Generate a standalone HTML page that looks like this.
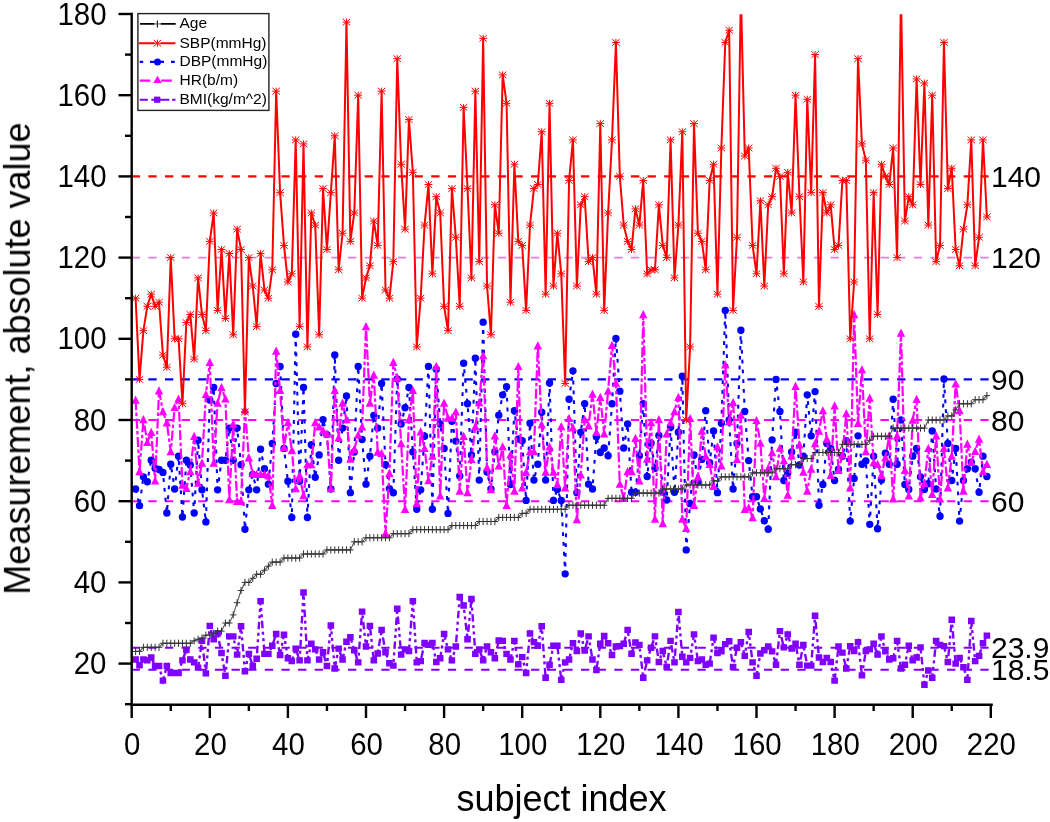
<!DOCTYPE html><html><head><meta charset="utf-8"><style>html,body{margin:0;padding:0;background:#fff;}svg{display:block;}</style></head><body>
<svg width="1050" height="822" viewBox="0 0 1050 822">
<rect width="1050" height="822" fill="#fff"/>
<defs><clipPath id="pc"><rect x="131" y="14.2" width="862" height="692"/></clipPath></defs>
<line x1="131.7" y1="176.40" x2="989" y2="176.40" stroke="#f00" stroke-width="2.1" stroke-dasharray="8.3 8.34"/>
<line x1="131.7" y1="257.60" x2="989" y2="257.60" stroke="#dd80d8" stroke-width="1.8" stroke-dasharray="8.3 8.34"/>
<line x1="131.7" y1="379.40" x2="989" y2="379.40" stroke="#00f" stroke-width="2.1" stroke-dasharray="8.3 8.34"/>
<line x1="131.7" y1="420.00" x2="989" y2="420.00" stroke="#f0f" stroke-width="2.1" stroke-dasharray="8.3 8.34"/>
<line x1="131.7" y1="501.20" x2="989" y2="501.20" stroke="#f0f" stroke-width="2.1" stroke-dasharray="8.3 8.34"/>
<line x1="131.7" y1="647.77" x2="989" y2="647.77" stroke="#8000ff" stroke-width="2.1" stroke-dasharray="8.3 8.34"/>
<line x1="131.7" y1="669.69" x2="989" y2="669.69" stroke="#8000ff" stroke-width="2.1" stroke-dasharray="8.3 8.34"/>
<g clip-path="url(#pc)">
<polyline points="135.60,659.54 139.51,665.22 143.41,659.54 147.32,660.35 151.22,657.51 155.13,666.04 159.03,666.04 162.94,680.65 166.84,666.04 170.75,672.94 174.65,672.94 178.56,672.94 182.46,660.35 186.37,649.80 190.27,659.54 194.18,662.38 198.08,667.66 201.99,640.86 205.89,673.34 209.80,625.84 213.70,639.24 217.61,633.56 221.51,653.04 225.42,675.78 229.32,636.40 233.23,636.40 237.13,654.67 241.04,626.25 244.94,671.31 248.85,653.86 252.75,666.04 256.66,658.73 260.56,601.08 264.47,653.86 268.38,653.86 272.28,645.74 276.18,633.96 280.09,655.07 284.00,634.77 287.90,658.32 291.80,661.16 295.71,648.58 299.62,660.35 303.52,592.55 307.42,660.35 311.33,643.71 315.24,649.39 319.14,659.54 323.04,652.23 326.95,666.04 330.86,625.44 334.76,668.47 338.66,648.58 342.57,659.54 346.47,641.68 350.38,637.21 354.28,650.20 358.19,662.38 362.09,611.63 366.00,646.55 369.90,625.84 373.81,660.35 377.71,653.45 381.62,629.90 385.52,652.23 389.43,663.19 393.33,665.63 397.24,608.79 401.14,654.67 405.05,649.39 408.95,651.01 412.86,601.08 416.76,662.38 420.67,661.16 424.57,642.89 428.48,644.92 432.38,642.89 436.29,661.98 440.19,658.32 444.10,633.96 448.00,649.39 451.91,660.35 455.81,646.55 459.72,597.02 463.62,605.54 467.53,639.24 471.43,599.05 475.34,653.86 479.24,649.39 483.15,660.35 487.05,646.55 490.96,652.23 494.86,658.32 498.77,640.46 502.67,640.86 506.58,653.86 510.48,659.54 514.39,640.86 518.29,664.41 522.20,657.10 526.11,672.94 530.01,633.56 533.91,642.08 537.82,645.74 541.72,626.25 545.63,677.81 549.53,664.82 553.44,645.74 557.35,645.74 561.25,679.84 565.15,662.38 569.06,659.54 572.96,643.30 576.87,651.01 580.77,633.56 584.68,650.61 588.59,636.40 592.49,659.54 596.39,670.10 600.30,643.71 604.20,635.99 608.11,643.30 612.01,655.07 615.92,646.55 619.83,646.14 623.73,643.71 627.63,629.90 631.54,653.86 635.44,642.49 639.35,644.92 643.25,677.81 647.16,660.35 651.07,647.77 654.97,636.40 658.88,661.98 662.78,651.01 666.68,666.85 670.59,640.86 674.49,662.38 678.40,612.04 682.31,656.70 686.21,662.38 690.12,657.92 694.02,634.37 697.92,661.16 701.83,659.54 705.73,664.82 709.64,663.60 713.55,637.62 717.45,653.04 721.36,651.42 725.26,644.11 729.16,641.27 733.07,666.85 736.97,647.77 740.88,642.08 744.78,655.89 748.69,631.93 752.60,662.38 756.50,675.78 760.40,653.45 764.31,650.20 768.21,646.55 772.12,651.42 776.02,664.82 779.93,631.12 783.84,647.36 787.74,634.37 791.64,648.58 795.55,643.71 799.45,664.82 803.36,644.92 807.26,665.63 811.17,665.63 815.08,615.69 818.98,657.51 822.88,661.98 826.79,657.92 830.69,661.98 834.60,680.65 838.50,646.55 842.41,652.64 846.32,668.47 850.22,646.14 854.12,651.01 858.03,642.08 861.93,675.37 865.84,651.01 869.74,649.39 873.65,643.71 877.56,654.67 881.46,636.40 885.37,651.42 889.27,659.54 893.17,658.32 897.08,640.86 900.98,668.47 904.89,664.82 908.79,645.74 912.70,660.35 916.61,657.51 920.51,647.36 924.41,684.71 928.32,670.50 932.22,677.81 936.13,640.86 940.03,644.92 943.94,646.14 947.85,661.98 951.75,619.75 955.65,663.60 959.56,657.92 963.46,667.25 967.37,679.84 971.27,620.97 975.18,661.16 979.09,655.89 982.99,643.30 986.89,635.59" fill="none" stroke="#8000ff" stroke-width="2.4" stroke-dasharray="7.5 3.5 3 3.5 3 3.5"/>
<path fill="#8000ff" d="M132.30,656.34h6.6v6.4h-6.6zM136.21,662.02h6.6v6.4h-6.6zM140.11,656.34h6.6v6.4h-6.6zM144.02,657.15h6.6v6.4h-6.6zM147.92,654.31h6.6v6.4h-6.6zM151.83,662.84h6.6v6.4h-6.6zM155.73,662.84h6.6v6.4h-6.6zM159.64,677.45h6.6v6.4h-6.6zM163.54,662.84h6.6v6.4h-6.6zM167.45,669.74h6.6v6.4h-6.6zM171.35,669.74h6.6v6.4h-6.6zM175.26,669.74h6.6v6.4h-6.6zM179.16,657.15h6.6v6.4h-6.6zM183.07,646.60h6.6v6.4h-6.6zM186.97,656.34h6.6v6.4h-6.6zM190.88,659.18h6.6v6.4h-6.6zM194.78,664.46h6.6v6.4h-6.6zM198.69,637.66h6.6v6.4h-6.6zM202.59,670.14h6.6v6.4h-6.6zM206.50,622.64h6.6v6.4h-6.6zM210.40,636.04h6.6v6.4h-6.6zM214.31,630.36h6.6v6.4h-6.6zM218.21,649.84h6.6v6.4h-6.6zM222.12,672.58h6.6v6.4h-6.6zM226.02,633.20h6.6v6.4h-6.6zM229.93,633.20h6.6v6.4h-6.6zM233.83,651.47h6.6v6.4h-6.6zM237.74,623.05h6.6v6.4h-6.6zM241.64,668.11h6.6v6.4h-6.6zM245.55,650.66h6.6v6.4h-6.6zM249.45,662.84h6.6v6.4h-6.6zM253.36,655.53h6.6v6.4h-6.6zM257.26,597.88h6.6v6.4h-6.6zM261.17,650.66h6.6v6.4h-6.6zM265.07,650.66h6.6v6.4h-6.6zM268.98,642.54h6.6v6.4h-6.6zM272.88,630.76h6.6v6.4h-6.6zM276.79,651.87h6.6v6.4h-6.6zM280.69,631.57h6.6v6.4h-6.6zM284.60,655.12h6.6v6.4h-6.6zM288.50,657.96h6.6v6.4h-6.6zM292.41,645.38h6.6v6.4h-6.6zM296.31,657.15h6.6v6.4h-6.6zM300.22,589.35h6.6v6.4h-6.6zM304.12,657.15h6.6v6.4h-6.6zM308.03,640.51h6.6v6.4h-6.6zM311.94,646.19h6.6v6.4h-6.6zM315.84,656.34h6.6v6.4h-6.6zM319.74,649.03h6.6v6.4h-6.6zM323.65,662.84h6.6v6.4h-6.6zM327.56,622.24h6.6v6.4h-6.6zM331.46,665.27h6.6v6.4h-6.6zM335.36,645.38h6.6v6.4h-6.6zM339.27,656.34h6.6v6.4h-6.6zM343.17,638.48h6.6v6.4h-6.6zM347.08,634.01h6.6v6.4h-6.6zM350.98,647.00h6.6v6.4h-6.6zM354.89,659.18h6.6v6.4h-6.6zM358.79,608.43h6.6v6.4h-6.6zM362.70,643.35h6.6v6.4h-6.6zM366.60,622.64h6.6v6.4h-6.6zM370.51,657.15h6.6v6.4h-6.6zM374.41,650.25h6.6v6.4h-6.6zM378.32,626.70h6.6v6.4h-6.6zM382.22,649.03h6.6v6.4h-6.6zM386.13,659.99h6.6v6.4h-6.6zM390.03,662.43h6.6v6.4h-6.6zM393.94,605.59h6.6v6.4h-6.6zM397.84,651.47h6.6v6.4h-6.6zM401.75,646.19h6.6v6.4h-6.6zM405.65,647.81h6.6v6.4h-6.6zM409.56,597.88h6.6v6.4h-6.6zM413.46,659.18h6.6v6.4h-6.6zM417.37,657.96h6.6v6.4h-6.6zM421.27,639.69h6.6v6.4h-6.6zM425.18,641.72h6.6v6.4h-6.6zM429.08,639.69h6.6v6.4h-6.6zM432.99,658.78h6.6v6.4h-6.6zM436.89,655.12h6.6v6.4h-6.6zM440.80,630.76h6.6v6.4h-6.6zM444.70,646.19h6.6v6.4h-6.6zM448.61,657.15h6.6v6.4h-6.6zM452.51,643.35h6.6v6.4h-6.6zM456.42,593.82h6.6v6.4h-6.6zM460.32,602.34h6.6v6.4h-6.6zM464.23,636.04h6.6v6.4h-6.6zM468.13,595.85h6.6v6.4h-6.6zM472.04,650.66h6.6v6.4h-6.6zM475.94,646.19h6.6v6.4h-6.6zM479.85,657.15h6.6v6.4h-6.6zM483.75,643.35h6.6v6.4h-6.6zM487.66,649.03h6.6v6.4h-6.6zM491.56,655.12h6.6v6.4h-6.6zM495.47,637.26h6.6v6.4h-6.6zM499.37,637.66h6.6v6.4h-6.6zM503.28,650.66h6.6v6.4h-6.6zM507.18,656.34h6.6v6.4h-6.6zM511.09,637.66h6.6v6.4h-6.6zM515.00,661.21h6.6v6.4h-6.6zM518.90,653.90h6.6v6.4h-6.6zM522.81,669.74h6.6v6.4h-6.6zM526.71,630.36h6.6v6.4h-6.6zM530.62,638.88h6.6v6.4h-6.6zM534.52,642.54h6.6v6.4h-6.6zM538.42,623.05h6.6v6.4h-6.6zM542.33,674.61h6.6v6.4h-6.6zM546.24,661.62h6.6v6.4h-6.6zM550.14,642.54h6.6v6.4h-6.6zM554.05,642.54h6.6v6.4h-6.6zM557.95,676.64h6.6v6.4h-6.6zM561.86,659.18h6.6v6.4h-6.6zM565.76,656.34h6.6v6.4h-6.6zM569.66,640.10h6.6v6.4h-6.6zM573.57,647.81h6.6v6.4h-6.6zM577.48,630.36h6.6v6.4h-6.6zM581.38,647.41h6.6v6.4h-6.6zM585.29,633.20h6.6v6.4h-6.6zM589.19,656.34h6.6v6.4h-6.6zM593.10,666.90h6.6v6.4h-6.6zM597.00,640.51h6.6v6.4h-6.6zM600.90,632.79h6.6v6.4h-6.6zM604.81,640.10h6.6v6.4h-6.6zM608.72,651.87h6.6v6.4h-6.6zM612.62,643.35h6.6v6.4h-6.6zM616.53,642.94h6.6v6.4h-6.6zM620.43,640.51h6.6v6.4h-6.6zM624.34,626.70h6.6v6.4h-6.6zM628.24,650.66h6.6v6.4h-6.6zM632.14,639.29h6.6v6.4h-6.6zM636.05,641.72h6.6v6.4h-6.6zM639.95,674.61h6.6v6.4h-6.6zM643.86,657.15h6.6v6.4h-6.6zM647.77,644.57h6.6v6.4h-6.6zM651.67,633.20h6.6v6.4h-6.6zM655.58,658.78h6.6v6.4h-6.6zM659.48,647.81h6.6v6.4h-6.6zM663.38,663.65h6.6v6.4h-6.6zM667.29,637.66h6.6v6.4h-6.6zM671.19,659.18h6.6v6.4h-6.6zM675.10,608.84h6.6v6.4h-6.6zM679.01,653.50h6.6v6.4h-6.6zM682.91,659.18h6.6v6.4h-6.6zM686.82,654.72h6.6v6.4h-6.6zM690.72,631.17h6.6v6.4h-6.6zM694.62,657.96h6.6v6.4h-6.6zM698.53,656.34h6.6v6.4h-6.6zM702.43,661.62h6.6v6.4h-6.6zM706.34,660.40h6.6v6.4h-6.6zM710.25,634.42h6.6v6.4h-6.6zM714.15,649.84h6.6v6.4h-6.6zM718.06,648.22h6.6v6.4h-6.6zM721.96,640.91h6.6v6.4h-6.6zM725.87,638.07h6.6v6.4h-6.6zM729.77,663.65h6.6v6.4h-6.6zM733.67,644.57h6.6v6.4h-6.6zM737.58,638.88h6.6v6.4h-6.6zM741.48,652.69h6.6v6.4h-6.6zM745.39,628.73h6.6v6.4h-6.6zM749.30,659.18h6.6v6.4h-6.6zM753.20,672.58h6.6v6.4h-6.6zM757.11,650.25h6.6v6.4h-6.6zM761.01,647.00h6.6v6.4h-6.6zM764.91,643.35h6.6v6.4h-6.6zM768.82,648.22h6.6v6.4h-6.6zM772.72,661.62h6.6v6.4h-6.6zM776.63,627.92h6.6v6.4h-6.6zM780.54,644.16h6.6v6.4h-6.6zM784.44,631.17h6.6v6.4h-6.6zM788.35,645.38h6.6v6.4h-6.6zM792.25,640.51h6.6v6.4h-6.6zM796.15,661.62h6.6v6.4h-6.6zM800.06,641.72h6.6v6.4h-6.6zM803.96,662.43h6.6v6.4h-6.6zM807.87,662.43h6.6v6.4h-6.6zM811.78,612.49h6.6v6.4h-6.6zM815.68,654.31h6.6v6.4h-6.6zM819.59,658.78h6.6v6.4h-6.6zM823.49,654.72h6.6v6.4h-6.6zM827.39,658.78h6.6v6.4h-6.6zM831.30,677.45h6.6v6.4h-6.6zM835.20,643.35h6.6v6.4h-6.6zM839.11,649.44h6.6v6.4h-6.6zM843.02,665.27h6.6v6.4h-6.6zM846.92,642.94h6.6v6.4h-6.6zM850.83,647.81h6.6v6.4h-6.6zM854.73,638.88h6.6v6.4h-6.6zM858.63,672.17h6.6v6.4h-6.6zM862.54,647.81h6.6v6.4h-6.6zM866.44,646.19h6.6v6.4h-6.6zM870.35,640.51h6.6v6.4h-6.6zM874.26,651.47h6.6v6.4h-6.6zM878.16,633.20h6.6v6.4h-6.6zM882.07,648.22h6.6v6.4h-6.6zM885.97,656.34h6.6v6.4h-6.6zM889.88,655.12h6.6v6.4h-6.6zM893.78,637.66h6.6v6.4h-6.6zM897.68,665.27h6.6v6.4h-6.6zM901.59,661.62h6.6v6.4h-6.6zM905.49,642.54h6.6v6.4h-6.6zM909.40,657.15h6.6v6.4h-6.6zM913.31,654.31h6.6v6.4h-6.6zM917.21,644.16h6.6v6.4h-6.6zM921.12,681.51h6.6v6.4h-6.6zM925.02,667.30h6.6v6.4h-6.6zM928.92,674.61h6.6v6.4h-6.6zM932.83,637.66h6.6v6.4h-6.6zM936.73,641.72h6.6v6.4h-6.6zM940.64,642.94h6.6v6.4h-6.6zM944.55,658.78h6.6v6.4h-6.6zM948.45,616.55h6.6v6.4h-6.6zM952.36,660.40h6.6v6.4h-6.6zM956.26,654.72h6.6v6.4h-6.6zM960.16,664.05h6.6v6.4h-6.6zM964.07,676.64h6.6v6.4h-6.6zM967.97,617.77h6.6v6.4h-6.6zM971.88,657.96h6.6v6.4h-6.6zM975.79,652.69h6.6v6.4h-6.6zM979.69,640.10h6.6v6.4h-6.6zM983.60,632.39h6.6v6.4h-6.6z"/>
<polyline points="135.60,489.02 139.51,505.67 143.41,476.84 147.32,481.71 151.22,460.19 155.13,468.31 159.03,469.53 162.94,472.37 166.84,512.97 170.75,464.25 174.65,489.02 178.56,456.13 182.46,517.03 186.37,460.19 190.27,465.07 194.18,512.97 198.08,440.30 201.99,489.83 205.89,521.91 209.80,400.11 213.70,387.52 217.61,489.83 221.51,460.19 225.42,460.19 229.32,428.12 233.23,460.19 237.13,428.12 241.04,464.66 244.94,529.21 248.85,489.83 252.75,474.40 256.66,489.83 260.56,449.23 264.47,468.72 268.38,484.15 272.28,443.55 276.18,383.46 280.09,366.41 284.00,448.42 287.90,481.31 291.80,517.44 295.71,334.33 299.62,481.31 303.52,387.52 307.42,517.44 311.33,444.77 315.24,477.25 319.14,454.92 323.04,419.59 326.95,434.62 330.86,489.02 334.76,355.04 338.66,460.19 342.57,428.12 346.47,396.05 350.38,492.67 354.28,452.07 358.19,366.41 362.09,439.49 366.00,484.15 369.90,456.13 373.81,415.53 377.71,428.12 381.62,383.46 385.52,464.66 389.43,488.61 393.33,492.67 397.24,378.99 401.14,424.06 405.05,407.82 408.95,387.52 412.86,452.07 416.76,509.32 420.67,489.83 424.57,436.24 428.48,366.41 432.38,509.32 436.29,369.25 440.19,424.06 444.10,448.42 448.00,513.38 451.91,421.22 455.81,441.11 459.72,476.03 463.62,363.16 467.53,403.76 471.43,454.92 475.34,358.29 479.24,480.09 483.15,322.15 487.05,471.97 490.96,489.02 494.86,451.67 498.77,415.13 502.67,394.83 506.58,386.71 510.48,484.55 514.39,410.66 518.29,439.08 522.20,440.71 526.11,500.39 530.01,423.25 533.91,480.09 537.82,464.25 541.72,412.29 545.63,480.09 549.53,383.05 553.44,500.39 557.35,489.43 561.25,500.39 565.15,573.87 569.06,399.29 572.96,370.87 576.87,492.67 580.77,432.18 584.68,403.76 588.59,484.15 592.49,489.02 596.39,436.65 600.30,452.48 604.20,448.01 608.11,455.73 612.01,403.76 615.92,338.39 619.83,391.17 623.73,448.01 627.63,424.06 631.54,492.27 635.44,492.27 639.35,455.73 643.25,403.76 647.16,476.43 651.07,443.14 654.97,468.31 658.88,435.43 662.78,492.27 666.68,499.98 670.59,427.31 674.49,492.27 678.40,432.18 682.31,376.15 686.21,549.92 690.12,503.64 694.02,454.92 697.92,481.71 701.83,459.38 705.73,410.66 709.64,462.63 713.55,430.96 717.45,492.67 721.36,423.25 725.26,310.38 729.16,420.00 733.07,489.02 736.97,443.55 740.88,330.27 744.78,411.47 748.69,460.60 752.60,496.73 756.50,496.73 760.40,508.91 764.31,520.69 768.21,529.21 772.12,439.89 776.02,379.40 779.93,411.47 783.84,480.49 787.74,473.19 791.64,452.07 795.55,432.18 799.45,465.07 803.36,456.13 807.26,394.83 811.17,435.83 815.08,391.58 818.98,505.26 822.88,484.55 826.79,443.55 830.69,448.42 834.60,480.49 838.50,469.13 842.41,456.13 846.32,440.71 850.22,521.09 854.12,478.46 858.03,435.83 861.93,464.25 865.84,461.01 869.74,524.34 873.65,456.13 877.56,528.81 881.46,480.09 885.37,453.29 889.27,464.25 893.17,399.29 897.08,464.25 900.98,420.00 904.89,484.55 908.79,489.43 912.70,456.13 916.61,448.42 920.51,476.84 924.41,489.43 928.32,483.74 932.22,430.96 936.13,489.02 940.03,516.22 943.94,378.99 947.85,443.55 951.75,480.49 955.65,448.42 959.56,521.09 963.46,480.49 967.37,468.72 971.27,462.22 975.18,468.72 979.09,492.27 982.99,456.13 986.89,476.43" fill="none" stroke="#00f" stroke-width="2.1" stroke-dasharray="3.8 6"/>
<path fill="#00f" d="M131.91,489.02a3.7,3.7 0 1,0 7.4,0a3.7,3.7 0 1,0 -7.4,0zM135.81,505.67a3.7,3.7 0 1,0 7.4,0a3.7,3.7 0 1,0 -7.4,0zM139.72,476.84a3.7,3.7 0 1,0 7.4,0a3.7,3.7 0 1,0 -7.4,0zM143.62,481.71a3.7,3.7 0 1,0 7.4,0a3.7,3.7 0 1,0 -7.4,0zM147.53,460.19a3.7,3.7 0 1,0 7.4,0a3.7,3.7 0 1,0 -7.4,0zM151.43,468.31a3.7,3.7 0 1,0 7.4,0a3.7,3.7 0 1,0 -7.4,0zM155.34,469.53a3.7,3.7 0 1,0 7.4,0a3.7,3.7 0 1,0 -7.4,0zM159.24,472.37a3.7,3.7 0 1,0 7.4,0a3.7,3.7 0 1,0 -7.4,0zM163.14,512.97a3.7,3.7 0 1,0 7.4,0a3.7,3.7 0 1,0 -7.4,0zM167.05,464.25a3.7,3.7 0 1,0 7.4,0a3.7,3.7 0 1,0 -7.4,0zM170.95,489.02a3.7,3.7 0 1,0 7.4,0a3.7,3.7 0 1,0 -7.4,0zM174.86,456.13a3.7,3.7 0 1,0 7.4,0a3.7,3.7 0 1,0 -7.4,0zM178.76,517.03a3.7,3.7 0 1,0 7.4,0a3.7,3.7 0 1,0 -7.4,0zM182.67,460.19a3.7,3.7 0 1,0 7.4,0a3.7,3.7 0 1,0 -7.4,0zM186.57,465.07a3.7,3.7 0 1,0 7.4,0a3.7,3.7 0 1,0 -7.4,0zM190.48,512.97a3.7,3.7 0 1,0 7.4,0a3.7,3.7 0 1,0 -7.4,0zM194.38,440.30a3.7,3.7 0 1,0 7.4,0a3.7,3.7 0 1,0 -7.4,0zM198.29,489.83a3.7,3.7 0 1,0 7.4,0a3.7,3.7 0 1,0 -7.4,0zM202.19,521.91a3.7,3.7 0 1,0 7.4,0a3.7,3.7 0 1,0 -7.4,0zM206.10,400.11a3.7,3.7 0 1,0 7.4,0a3.7,3.7 0 1,0 -7.4,0zM210.00,387.52a3.7,3.7 0 1,0 7.4,0a3.7,3.7 0 1,0 -7.4,0zM213.91,489.83a3.7,3.7 0 1,0 7.4,0a3.7,3.7 0 1,0 -7.4,0zM217.81,460.19a3.7,3.7 0 1,0 7.4,0a3.7,3.7 0 1,0 -7.4,0zM221.72,460.19a3.7,3.7 0 1,0 7.4,0a3.7,3.7 0 1,0 -7.4,0zM225.62,428.12a3.7,3.7 0 1,0 7.4,0a3.7,3.7 0 1,0 -7.4,0zM229.53,460.19a3.7,3.7 0 1,0 7.4,0a3.7,3.7 0 1,0 -7.4,0zM233.44,428.12a3.7,3.7 0 1,0 7.4,0a3.7,3.7 0 1,0 -7.4,0zM237.34,464.66a3.7,3.7 0 1,0 7.4,0a3.7,3.7 0 1,0 -7.4,0zM241.25,529.21a3.7,3.7 0 1,0 7.4,0a3.7,3.7 0 1,0 -7.4,0zM245.15,489.83a3.7,3.7 0 1,0 7.4,0a3.7,3.7 0 1,0 -7.4,0zM249.06,474.40a3.7,3.7 0 1,0 7.4,0a3.7,3.7 0 1,0 -7.4,0zM252.96,489.83a3.7,3.7 0 1,0 7.4,0a3.7,3.7 0 1,0 -7.4,0zM256.86,449.23a3.7,3.7 0 1,0 7.4,0a3.7,3.7 0 1,0 -7.4,0zM260.77,468.72a3.7,3.7 0 1,0 7.4,0a3.7,3.7 0 1,0 -7.4,0zM264.68,484.15a3.7,3.7 0 1,0 7.4,0a3.7,3.7 0 1,0 -7.4,0zM268.58,443.55a3.7,3.7 0 1,0 7.4,0a3.7,3.7 0 1,0 -7.4,0zM272.48,383.46a3.7,3.7 0 1,0 7.4,0a3.7,3.7 0 1,0 -7.4,0zM276.39,366.41a3.7,3.7 0 1,0 7.4,0a3.7,3.7 0 1,0 -7.4,0zM280.30,448.42a3.7,3.7 0 1,0 7.4,0a3.7,3.7 0 1,0 -7.4,0zM284.20,481.31a3.7,3.7 0 1,0 7.4,0a3.7,3.7 0 1,0 -7.4,0zM288.10,517.44a3.7,3.7 0 1,0 7.4,0a3.7,3.7 0 1,0 -7.4,0zM292.01,334.33a3.7,3.7 0 1,0 7.4,0a3.7,3.7 0 1,0 -7.4,0zM295.92,481.31a3.7,3.7 0 1,0 7.4,0a3.7,3.7 0 1,0 -7.4,0zM299.82,387.52a3.7,3.7 0 1,0 7.4,0a3.7,3.7 0 1,0 -7.4,0zM303.72,517.44a3.7,3.7 0 1,0 7.4,0a3.7,3.7 0 1,0 -7.4,0zM307.63,444.77a3.7,3.7 0 1,0 7.4,0a3.7,3.7 0 1,0 -7.4,0zM311.54,477.25a3.7,3.7 0 1,0 7.4,0a3.7,3.7 0 1,0 -7.4,0zM315.44,454.92a3.7,3.7 0 1,0 7.4,0a3.7,3.7 0 1,0 -7.4,0zM319.34,419.59a3.7,3.7 0 1,0 7.4,0a3.7,3.7 0 1,0 -7.4,0zM323.25,434.62a3.7,3.7 0 1,0 7.4,0a3.7,3.7 0 1,0 -7.4,0zM327.16,489.02a3.7,3.7 0 1,0 7.4,0a3.7,3.7 0 1,0 -7.4,0zM331.06,355.04a3.7,3.7 0 1,0 7.4,0a3.7,3.7 0 1,0 -7.4,0zM334.96,460.19a3.7,3.7 0 1,0 7.4,0a3.7,3.7 0 1,0 -7.4,0zM338.87,428.12a3.7,3.7 0 1,0 7.4,0a3.7,3.7 0 1,0 -7.4,0zM342.77,396.05a3.7,3.7 0 1,0 7.4,0a3.7,3.7 0 1,0 -7.4,0zM346.68,492.67a3.7,3.7 0 1,0 7.4,0a3.7,3.7 0 1,0 -7.4,0zM350.58,452.07a3.7,3.7 0 1,0 7.4,0a3.7,3.7 0 1,0 -7.4,0zM354.49,366.41a3.7,3.7 0 1,0 7.4,0a3.7,3.7 0 1,0 -7.4,0zM358.39,439.49a3.7,3.7 0 1,0 7.4,0a3.7,3.7 0 1,0 -7.4,0zM362.30,484.15a3.7,3.7 0 1,0 7.4,0a3.7,3.7 0 1,0 -7.4,0zM366.20,456.13a3.7,3.7 0 1,0 7.4,0a3.7,3.7 0 1,0 -7.4,0zM370.11,415.53a3.7,3.7 0 1,0 7.4,0a3.7,3.7 0 1,0 -7.4,0zM374.01,428.12a3.7,3.7 0 1,0 7.4,0a3.7,3.7 0 1,0 -7.4,0zM377.92,383.46a3.7,3.7 0 1,0 7.4,0a3.7,3.7 0 1,0 -7.4,0zM381.82,464.66a3.7,3.7 0 1,0 7.4,0a3.7,3.7 0 1,0 -7.4,0zM385.73,488.61a3.7,3.7 0 1,0 7.4,0a3.7,3.7 0 1,0 -7.4,0zM389.63,492.67a3.7,3.7 0 1,0 7.4,0a3.7,3.7 0 1,0 -7.4,0zM393.54,378.99a3.7,3.7 0 1,0 7.4,0a3.7,3.7 0 1,0 -7.4,0zM397.44,424.06a3.7,3.7 0 1,0 7.4,0a3.7,3.7 0 1,0 -7.4,0zM401.35,407.82a3.7,3.7 0 1,0 7.4,0a3.7,3.7 0 1,0 -7.4,0zM405.25,387.52a3.7,3.7 0 1,0 7.4,0a3.7,3.7 0 1,0 -7.4,0zM409.16,452.07a3.7,3.7 0 1,0 7.4,0a3.7,3.7 0 1,0 -7.4,0zM413.06,509.32a3.7,3.7 0 1,0 7.4,0a3.7,3.7 0 1,0 -7.4,0zM416.97,489.83a3.7,3.7 0 1,0 7.4,0a3.7,3.7 0 1,0 -7.4,0zM420.88,436.24a3.7,3.7 0 1,0 7.4,0a3.7,3.7 0 1,0 -7.4,0zM424.78,366.41a3.7,3.7 0 1,0 7.4,0a3.7,3.7 0 1,0 -7.4,0zM428.69,509.32a3.7,3.7 0 1,0 7.4,0a3.7,3.7 0 1,0 -7.4,0zM432.59,369.25a3.7,3.7 0 1,0 7.4,0a3.7,3.7 0 1,0 -7.4,0zM436.50,424.06a3.7,3.7 0 1,0 7.4,0a3.7,3.7 0 1,0 -7.4,0zM440.40,448.42a3.7,3.7 0 1,0 7.4,0a3.7,3.7 0 1,0 -7.4,0zM444.31,513.38a3.7,3.7 0 1,0 7.4,0a3.7,3.7 0 1,0 -7.4,0zM448.21,421.22a3.7,3.7 0 1,0 7.4,0a3.7,3.7 0 1,0 -7.4,0zM452.12,441.11a3.7,3.7 0 1,0 7.4,0a3.7,3.7 0 1,0 -7.4,0zM456.02,476.03a3.7,3.7 0 1,0 7.4,0a3.7,3.7 0 1,0 -7.4,0zM459.93,363.16a3.7,3.7 0 1,0 7.4,0a3.7,3.7 0 1,0 -7.4,0zM463.83,403.76a3.7,3.7 0 1,0 7.4,0a3.7,3.7 0 1,0 -7.4,0zM467.73,454.92a3.7,3.7 0 1,0 7.4,0a3.7,3.7 0 1,0 -7.4,0zM471.64,358.29a3.7,3.7 0 1,0 7.4,0a3.7,3.7 0 1,0 -7.4,0zM475.54,480.09a3.7,3.7 0 1,0 7.4,0a3.7,3.7 0 1,0 -7.4,0zM479.45,322.15a3.7,3.7 0 1,0 7.4,0a3.7,3.7 0 1,0 -7.4,0zM483.35,471.97a3.7,3.7 0 1,0 7.4,0a3.7,3.7 0 1,0 -7.4,0zM487.26,489.02a3.7,3.7 0 1,0 7.4,0a3.7,3.7 0 1,0 -7.4,0zM491.16,451.67a3.7,3.7 0 1,0 7.4,0a3.7,3.7 0 1,0 -7.4,0zM495.07,415.13a3.7,3.7 0 1,0 7.4,0a3.7,3.7 0 1,0 -7.4,0zM498.97,394.83a3.7,3.7 0 1,0 7.4,0a3.7,3.7 0 1,0 -7.4,0zM502.88,386.71a3.7,3.7 0 1,0 7.4,0a3.7,3.7 0 1,0 -7.4,0zM506.78,484.55a3.7,3.7 0 1,0 7.4,0a3.7,3.7 0 1,0 -7.4,0zM510.69,410.66a3.7,3.7 0 1,0 7.4,0a3.7,3.7 0 1,0 -7.4,0zM514.59,439.08a3.7,3.7 0 1,0 7.4,0a3.7,3.7 0 1,0 -7.4,0zM518.50,440.71a3.7,3.7 0 1,0 7.4,0a3.7,3.7 0 1,0 -7.4,0zM522.40,500.39a3.7,3.7 0 1,0 7.4,0a3.7,3.7 0 1,0 -7.4,0zM526.31,423.25a3.7,3.7 0 1,0 7.4,0a3.7,3.7 0 1,0 -7.4,0zM530.21,480.09a3.7,3.7 0 1,0 7.4,0a3.7,3.7 0 1,0 -7.4,0zM534.12,464.25a3.7,3.7 0 1,0 7.4,0a3.7,3.7 0 1,0 -7.4,0zM538.02,412.29a3.7,3.7 0 1,0 7.4,0a3.7,3.7 0 1,0 -7.4,0zM541.93,480.09a3.7,3.7 0 1,0 7.4,0a3.7,3.7 0 1,0 -7.4,0zM545.83,383.05a3.7,3.7 0 1,0 7.4,0a3.7,3.7 0 1,0 -7.4,0zM549.74,500.39a3.7,3.7 0 1,0 7.4,0a3.7,3.7 0 1,0 -7.4,0zM553.64,489.43a3.7,3.7 0 1,0 7.4,0a3.7,3.7 0 1,0 -7.4,0zM557.55,500.39a3.7,3.7 0 1,0 7.4,0a3.7,3.7 0 1,0 -7.4,0zM561.45,573.87a3.7,3.7 0 1,0 7.4,0a3.7,3.7 0 1,0 -7.4,0zM565.36,399.29a3.7,3.7 0 1,0 7.4,0a3.7,3.7 0 1,0 -7.4,0zM569.26,370.87a3.7,3.7 0 1,0 7.4,0a3.7,3.7 0 1,0 -7.4,0zM573.17,492.67a3.7,3.7 0 1,0 7.4,0a3.7,3.7 0 1,0 -7.4,0zM577.07,432.18a3.7,3.7 0 1,0 7.4,0a3.7,3.7 0 1,0 -7.4,0zM580.98,403.76a3.7,3.7 0 1,0 7.4,0a3.7,3.7 0 1,0 -7.4,0zM584.88,484.15a3.7,3.7 0 1,0 7.4,0a3.7,3.7 0 1,0 -7.4,0zM588.79,489.02a3.7,3.7 0 1,0 7.4,0a3.7,3.7 0 1,0 -7.4,0zM592.69,436.65a3.7,3.7 0 1,0 7.4,0a3.7,3.7 0 1,0 -7.4,0zM596.60,452.48a3.7,3.7 0 1,0 7.4,0a3.7,3.7 0 1,0 -7.4,0zM600.50,448.01a3.7,3.7 0 1,0 7.4,0a3.7,3.7 0 1,0 -7.4,0zM604.41,455.73a3.7,3.7 0 1,0 7.4,0a3.7,3.7 0 1,0 -7.4,0zM608.31,403.76a3.7,3.7 0 1,0 7.4,0a3.7,3.7 0 1,0 -7.4,0zM612.22,338.39a3.7,3.7 0 1,0 7.4,0a3.7,3.7 0 1,0 -7.4,0zM616.12,391.17a3.7,3.7 0 1,0 7.4,0a3.7,3.7 0 1,0 -7.4,0zM620.03,448.01a3.7,3.7 0 1,0 7.4,0a3.7,3.7 0 1,0 -7.4,0zM623.93,424.06a3.7,3.7 0 1,0 7.4,0a3.7,3.7 0 1,0 -7.4,0zM627.84,492.27a3.7,3.7 0 1,0 7.4,0a3.7,3.7 0 1,0 -7.4,0zM631.74,492.27a3.7,3.7 0 1,0 7.4,0a3.7,3.7 0 1,0 -7.4,0zM635.65,455.73a3.7,3.7 0 1,0 7.4,0a3.7,3.7 0 1,0 -7.4,0zM639.55,403.76a3.7,3.7 0 1,0 7.4,0a3.7,3.7 0 1,0 -7.4,0zM643.46,476.43a3.7,3.7 0 1,0 7.4,0a3.7,3.7 0 1,0 -7.4,0zM647.37,443.14a3.7,3.7 0 1,0 7.4,0a3.7,3.7 0 1,0 -7.4,0zM651.27,468.31a3.7,3.7 0 1,0 7.4,0a3.7,3.7 0 1,0 -7.4,0zM655.17,435.43a3.7,3.7 0 1,0 7.4,0a3.7,3.7 0 1,0 -7.4,0zM659.08,492.27a3.7,3.7 0 1,0 7.4,0a3.7,3.7 0 1,0 -7.4,0zM662.98,499.98a3.7,3.7 0 1,0 7.4,0a3.7,3.7 0 1,0 -7.4,0zM666.89,427.31a3.7,3.7 0 1,0 7.4,0a3.7,3.7 0 1,0 -7.4,0zM670.79,492.27a3.7,3.7 0 1,0 7.4,0a3.7,3.7 0 1,0 -7.4,0zM674.70,432.18a3.7,3.7 0 1,0 7.4,0a3.7,3.7 0 1,0 -7.4,0zM678.61,376.15a3.7,3.7 0 1,0 7.4,0a3.7,3.7 0 1,0 -7.4,0zM682.51,549.92a3.7,3.7 0 1,0 7.4,0a3.7,3.7 0 1,0 -7.4,0zM686.41,503.64a3.7,3.7 0 1,0 7.4,0a3.7,3.7 0 1,0 -7.4,0zM690.32,454.92a3.7,3.7 0 1,0 7.4,0a3.7,3.7 0 1,0 -7.4,0zM694.22,481.71a3.7,3.7 0 1,0 7.4,0a3.7,3.7 0 1,0 -7.4,0zM698.13,459.38a3.7,3.7 0 1,0 7.4,0a3.7,3.7 0 1,0 -7.4,0zM702.03,410.66a3.7,3.7 0 1,0 7.4,0a3.7,3.7 0 1,0 -7.4,0zM705.94,462.63a3.7,3.7 0 1,0 7.4,0a3.7,3.7 0 1,0 -7.4,0zM709.85,430.96a3.7,3.7 0 1,0 7.4,0a3.7,3.7 0 1,0 -7.4,0zM713.75,492.67a3.7,3.7 0 1,0 7.4,0a3.7,3.7 0 1,0 -7.4,0zM717.65,423.25a3.7,3.7 0 1,0 7.4,0a3.7,3.7 0 1,0 -7.4,0zM721.56,310.38a3.7,3.7 0 1,0 7.4,0a3.7,3.7 0 1,0 -7.4,0zM725.46,420.00a3.7,3.7 0 1,0 7.4,0a3.7,3.7 0 1,0 -7.4,0zM729.37,489.02a3.7,3.7 0 1,0 7.4,0a3.7,3.7 0 1,0 -7.4,0zM733.27,443.55a3.7,3.7 0 1,0 7.4,0a3.7,3.7 0 1,0 -7.4,0zM737.18,330.27a3.7,3.7 0 1,0 7.4,0a3.7,3.7 0 1,0 -7.4,0zM741.08,411.47a3.7,3.7 0 1,0 7.4,0a3.7,3.7 0 1,0 -7.4,0zM744.99,460.60a3.7,3.7 0 1,0 7.4,0a3.7,3.7 0 1,0 -7.4,0zM748.89,496.73a3.7,3.7 0 1,0 7.4,0a3.7,3.7 0 1,0 -7.4,0zM752.80,496.73a3.7,3.7 0 1,0 7.4,0a3.7,3.7 0 1,0 -7.4,0zM756.70,508.91a3.7,3.7 0 1,0 7.4,0a3.7,3.7 0 1,0 -7.4,0zM760.61,520.69a3.7,3.7 0 1,0 7.4,0a3.7,3.7 0 1,0 -7.4,0zM764.51,529.21a3.7,3.7 0 1,0 7.4,0a3.7,3.7 0 1,0 -7.4,0zM768.42,439.89a3.7,3.7 0 1,0 7.4,0a3.7,3.7 0 1,0 -7.4,0zM772.32,379.40a3.7,3.7 0 1,0 7.4,0a3.7,3.7 0 1,0 -7.4,0zM776.23,411.47a3.7,3.7 0 1,0 7.4,0a3.7,3.7 0 1,0 -7.4,0zM780.13,480.49a3.7,3.7 0 1,0 7.4,0a3.7,3.7 0 1,0 -7.4,0zM784.04,473.19a3.7,3.7 0 1,0 7.4,0a3.7,3.7 0 1,0 -7.4,0zM787.94,452.07a3.7,3.7 0 1,0 7.4,0a3.7,3.7 0 1,0 -7.4,0zM791.85,432.18a3.7,3.7 0 1,0 7.4,0a3.7,3.7 0 1,0 -7.4,0zM795.75,465.07a3.7,3.7 0 1,0 7.4,0a3.7,3.7 0 1,0 -7.4,0zM799.66,456.13a3.7,3.7 0 1,0 7.4,0a3.7,3.7 0 1,0 -7.4,0zM803.56,394.83a3.7,3.7 0 1,0 7.4,0a3.7,3.7 0 1,0 -7.4,0zM807.47,435.83a3.7,3.7 0 1,0 7.4,0a3.7,3.7 0 1,0 -7.4,0zM811.38,391.58a3.7,3.7 0 1,0 7.4,0a3.7,3.7 0 1,0 -7.4,0zM815.28,505.26a3.7,3.7 0 1,0 7.4,0a3.7,3.7 0 1,0 -7.4,0zM819.18,484.55a3.7,3.7 0 1,0 7.4,0a3.7,3.7 0 1,0 -7.4,0zM823.09,443.55a3.7,3.7 0 1,0 7.4,0a3.7,3.7 0 1,0 -7.4,0zM826.99,448.42a3.7,3.7 0 1,0 7.4,0a3.7,3.7 0 1,0 -7.4,0zM830.90,480.49a3.7,3.7 0 1,0 7.4,0a3.7,3.7 0 1,0 -7.4,0zM834.80,469.13a3.7,3.7 0 1,0 7.4,0a3.7,3.7 0 1,0 -7.4,0zM838.71,456.13a3.7,3.7 0 1,0 7.4,0a3.7,3.7 0 1,0 -7.4,0zM842.62,440.71a3.7,3.7 0 1,0 7.4,0a3.7,3.7 0 1,0 -7.4,0zM846.52,521.09a3.7,3.7 0 1,0 7.4,0a3.7,3.7 0 1,0 -7.4,0zM850.42,478.46a3.7,3.7 0 1,0 7.4,0a3.7,3.7 0 1,0 -7.4,0zM854.33,435.83a3.7,3.7 0 1,0 7.4,0a3.7,3.7 0 1,0 -7.4,0zM858.23,464.25a3.7,3.7 0 1,0 7.4,0a3.7,3.7 0 1,0 -7.4,0zM862.14,461.01a3.7,3.7 0 1,0 7.4,0a3.7,3.7 0 1,0 -7.4,0zM866.04,524.34a3.7,3.7 0 1,0 7.4,0a3.7,3.7 0 1,0 -7.4,0zM869.95,456.13a3.7,3.7 0 1,0 7.4,0a3.7,3.7 0 1,0 -7.4,0zM873.86,528.81a3.7,3.7 0 1,0 7.4,0a3.7,3.7 0 1,0 -7.4,0zM877.76,480.09a3.7,3.7 0 1,0 7.4,0a3.7,3.7 0 1,0 -7.4,0zM881.66,453.29a3.7,3.7 0 1,0 7.4,0a3.7,3.7 0 1,0 -7.4,0zM885.57,464.25a3.7,3.7 0 1,0 7.4,0a3.7,3.7 0 1,0 -7.4,0zM889.47,399.29a3.7,3.7 0 1,0 7.4,0a3.7,3.7 0 1,0 -7.4,0zM893.38,464.25a3.7,3.7 0 1,0 7.4,0a3.7,3.7 0 1,0 -7.4,0zM897.28,420.00a3.7,3.7 0 1,0 7.4,0a3.7,3.7 0 1,0 -7.4,0zM901.19,484.55a3.7,3.7 0 1,0 7.4,0a3.7,3.7 0 1,0 -7.4,0zM905.09,489.43a3.7,3.7 0 1,0 7.4,0a3.7,3.7 0 1,0 -7.4,0zM909.00,456.13a3.7,3.7 0 1,0 7.4,0a3.7,3.7 0 1,0 -7.4,0zM912.90,448.42a3.7,3.7 0 1,0 7.4,0a3.7,3.7 0 1,0 -7.4,0zM916.81,476.84a3.7,3.7 0 1,0 7.4,0a3.7,3.7 0 1,0 -7.4,0zM920.71,489.43a3.7,3.7 0 1,0 7.4,0a3.7,3.7 0 1,0 -7.4,0zM924.62,483.74a3.7,3.7 0 1,0 7.4,0a3.7,3.7 0 1,0 -7.4,0zM928.52,430.96a3.7,3.7 0 1,0 7.4,0a3.7,3.7 0 1,0 -7.4,0zM932.43,489.02a3.7,3.7 0 1,0 7.4,0a3.7,3.7 0 1,0 -7.4,0zM936.33,516.22a3.7,3.7 0 1,0 7.4,0a3.7,3.7 0 1,0 -7.4,0zM940.24,378.99a3.7,3.7 0 1,0 7.4,0a3.7,3.7 0 1,0 -7.4,0zM944.14,443.55a3.7,3.7 0 1,0 7.4,0a3.7,3.7 0 1,0 -7.4,0zM948.05,480.49a3.7,3.7 0 1,0 7.4,0a3.7,3.7 0 1,0 -7.4,0zM951.95,448.42a3.7,3.7 0 1,0 7.4,0a3.7,3.7 0 1,0 -7.4,0zM955.86,521.09a3.7,3.7 0 1,0 7.4,0a3.7,3.7 0 1,0 -7.4,0zM959.76,480.49a3.7,3.7 0 1,0 7.4,0a3.7,3.7 0 1,0 -7.4,0zM963.67,468.72a3.7,3.7 0 1,0 7.4,0a3.7,3.7 0 1,0 -7.4,0zM967.57,462.22a3.7,3.7 0 1,0 7.4,0a3.7,3.7 0 1,0 -7.4,0zM971.48,468.72a3.7,3.7 0 1,0 7.4,0a3.7,3.7 0 1,0 -7.4,0zM975.38,492.27a3.7,3.7 0 1,0 7.4,0a3.7,3.7 0 1,0 -7.4,0zM979.29,456.13a3.7,3.7 0 1,0 7.4,0a3.7,3.7 0 1,0 -7.4,0zM983.19,476.43a3.7,3.7 0 1,0 7.4,0a3.7,3.7 0 1,0 -7.4,0z"/>
<polyline points="135.60,400.11 139.51,471.56 143.41,419.59 147.32,442.33 151.22,432.18 155.13,480.90 159.03,390.77 162.94,411.47 166.84,422.84 170.75,451.67 174.65,407.41 178.56,398.89 182.46,484.96 186.37,488.21 190.27,471.56 194.18,436.24 198.08,482.93 201.99,463.04 205.89,394.42 209.80,362.35 213.70,463.04 217.61,402.95 221.51,387.52 225.42,398.89 229.32,499.58 233.23,424.06 237.13,501.20 241.04,501.20 244.94,409.85 248.85,457.76 252.75,473.19 256.66,474.40 260.56,474.40 264.47,474.40 268.38,475.62 272.28,505.26 276.18,350.98 280.09,390.36 284.00,447.61 287.90,422.44 291.80,450.45 295.71,488.61 299.62,475.62 303.52,495.52 307.42,464.66 311.33,464.66 315.24,422.44 319.14,426.90 323.04,430.56 326.95,433.80 330.86,488.61 334.76,390.36 338.66,437.86 342.57,402.95 346.47,419.59 350.38,458.98 354.28,449.23 358.19,435.02 362.09,426.90 366.00,326.62 369.90,402.95 373.81,374.93 377.71,452.07 381.62,453.29 385.52,533.27 389.43,473.19 393.33,362.35 397.24,377.78 401.14,443.55 405.05,509.32 408.95,419.59 412.86,390.36 416.76,503.23 420.67,431.77 424.57,448.42 428.48,480.49 432.38,456.13 436.29,366.41 440.19,495.92 444.10,402.95 448.00,417.97 451.91,417.97 455.81,411.88 459.72,491.05 463.62,436.24 467.53,492.67 471.43,459.38 475.34,426.50 479.24,402.54 483.15,355.45 487.05,467.50 490.96,489.43 494.86,435.83 498.77,465.88 502.67,446.80 506.58,505.26 510.48,454.92 514.39,491.05 518.29,366.41 522.20,487.80 526.11,471.97 530.01,451.67 533.91,451.67 537.82,345.70 541.72,424.87 545.63,471.97 549.53,446.80 553.44,471.97 557.35,484.55 561.25,426.50 565.15,487.80 569.06,418.38 572.96,427.71 576.87,519.47 580.77,474.81 584.68,419.59 588.59,425.68 592.49,394.02 596.39,432.18 600.30,397.26 604.20,433.80 608.11,391.17 612.01,345.30 615.92,383.05 619.83,484.15 623.73,498.36 627.63,471.56 631.54,471.56 635.44,438.27 639.35,480.90 643.25,314.44 647.16,458.98 651.07,422.44 654.97,519.06 658.88,419.59 662.78,523.53 666.68,433.80 670.59,422.44 674.49,411.47 678.40,397.26 682.31,519.06 686.21,528.40 690.12,418.38 694.02,505.26 697.92,476.84 701.83,430.96 705.73,456.13 709.64,464.25 713.55,486.18 717.45,446.80 721.36,465.88 725.26,364.78 729.16,421.62 733.07,402.54 736.97,459.38 740.88,415.13 744.78,509.32 748.69,507.70 752.60,517.44 756.50,420.41 760.40,443.14 764.31,498.36 768.21,468.31 772.12,452.48 776.02,476.43 779.93,448.01 783.84,460.60 787.74,495.11 791.64,455.73 795.55,386.30 799.45,444.77 803.36,471.97 807.26,491.05 811.17,469.13 815.08,443.55 818.98,430.96 822.88,410.66 826.79,439.08 830.69,475.22 834.60,405.79 838.50,470.34 842.41,454.92 846.32,413.50 850.22,487.80 854.12,314.44 858.03,423.25 861.93,369.66 865.84,451.67 869.74,398.08 873.65,462.63 877.56,464.25 881.46,475.22 885.37,457.76 889.27,435.83 893.17,498.76 897.08,435.83 900.98,333.12 904.89,470.34 908.79,495.92 912.70,420.00 916.61,399.29 920.51,497.55 924.41,483.34 928.32,448.42 932.22,494.30 936.13,435.83 940.03,498.76 943.94,448.42 947.85,487.80 951.75,456.13 955.65,383.87 959.56,410.66 963.46,491.05 967.37,443.95 971.27,462.22 975.18,451.26 979.09,439.08 982.99,471.56 986.89,464.25" fill="none" stroke="#f0f" stroke-width="2.2" stroke-dasharray="10 2.5 3.5 2.5"/>
<path fill="#f0f" d="M135.60,395.61l4.2,8.2h-8.4zM139.51,467.06l4.2,8.2h-8.4zM143.41,415.09l4.2,8.2h-8.4zM147.32,437.83l4.2,8.2h-8.4zM151.22,427.68l4.2,8.2h-8.4zM155.13,476.40l4.2,8.2h-8.4zM159.03,386.27l4.2,8.2h-8.4zM162.94,406.97l4.2,8.2h-8.4zM166.84,418.34l4.2,8.2h-8.4zM170.75,447.17l4.2,8.2h-8.4zM174.65,402.91l4.2,8.2h-8.4zM178.56,394.39l4.2,8.2h-8.4zM182.46,480.46l4.2,8.2h-8.4zM186.37,483.71l4.2,8.2h-8.4zM190.27,467.06l4.2,8.2h-8.4zM194.18,431.74l4.2,8.2h-8.4zM198.08,478.43l4.2,8.2h-8.4zM201.99,458.54l4.2,8.2h-8.4zM205.89,389.92l4.2,8.2h-8.4zM209.80,357.85l4.2,8.2h-8.4zM213.70,458.54l4.2,8.2h-8.4zM217.61,398.45l4.2,8.2h-8.4zM221.51,383.02l4.2,8.2h-8.4zM225.42,394.39l4.2,8.2h-8.4zM229.32,495.08l4.2,8.2h-8.4zM233.23,419.56l4.2,8.2h-8.4zM237.13,496.70l4.2,8.2h-8.4zM241.04,496.70l4.2,8.2h-8.4zM244.94,405.35l4.2,8.2h-8.4zM248.85,453.26l4.2,8.2h-8.4zM252.75,468.69l4.2,8.2h-8.4zM256.66,469.90l4.2,8.2h-8.4zM260.56,469.90l4.2,8.2h-8.4zM264.47,469.90l4.2,8.2h-8.4zM268.38,471.12l4.2,8.2h-8.4zM272.28,500.76l4.2,8.2h-8.4zM276.18,346.48l4.2,8.2h-8.4zM280.09,385.86l4.2,8.2h-8.4zM284.00,443.11l4.2,8.2h-8.4zM287.90,417.94l4.2,8.2h-8.4zM291.80,445.95l4.2,8.2h-8.4zM295.71,484.11l4.2,8.2h-8.4zM299.62,471.12l4.2,8.2h-8.4zM303.52,491.02l4.2,8.2h-8.4zM307.42,460.16l4.2,8.2h-8.4zM311.33,460.16l4.2,8.2h-8.4zM315.24,417.94l4.2,8.2h-8.4zM319.14,422.40l4.2,8.2h-8.4zM323.04,426.06l4.2,8.2h-8.4zM326.95,429.30l4.2,8.2h-8.4zM330.86,484.11l4.2,8.2h-8.4zM334.76,385.86l4.2,8.2h-8.4zM338.66,433.36l4.2,8.2h-8.4zM342.57,398.45l4.2,8.2h-8.4zM346.47,415.09l4.2,8.2h-8.4zM350.38,454.48l4.2,8.2h-8.4zM354.28,444.73l4.2,8.2h-8.4zM358.19,430.52l4.2,8.2h-8.4zM362.09,422.40l4.2,8.2h-8.4zM366.00,322.12l4.2,8.2h-8.4zM369.90,398.45l4.2,8.2h-8.4zM373.81,370.43l4.2,8.2h-8.4zM377.71,447.57l4.2,8.2h-8.4zM381.62,448.79l4.2,8.2h-8.4zM385.52,528.77l4.2,8.2h-8.4zM389.43,468.69l4.2,8.2h-8.4zM393.33,357.85l4.2,8.2h-8.4zM397.24,373.28l4.2,8.2h-8.4zM401.14,439.05l4.2,8.2h-8.4zM405.05,504.82l4.2,8.2h-8.4zM408.95,415.09l4.2,8.2h-8.4zM412.86,385.86l4.2,8.2h-8.4zM416.76,498.73l4.2,8.2h-8.4zM420.67,427.27l4.2,8.2h-8.4zM424.57,443.92l4.2,8.2h-8.4zM428.48,475.99l4.2,8.2h-8.4zM432.38,451.63l4.2,8.2h-8.4zM436.29,361.91l4.2,8.2h-8.4zM440.19,491.42l4.2,8.2h-8.4zM444.10,398.45l4.2,8.2h-8.4zM448.00,413.47l4.2,8.2h-8.4zM451.91,413.47l4.2,8.2h-8.4zM455.81,407.38l4.2,8.2h-8.4zM459.72,486.55l4.2,8.2h-8.4zM463.62,431.74l4.2,8.2h-8.4zM467.53,488.17l4.2,8.2h-8.4zM471.43,454.88l4.2,8.2h-8.4zM475.34,422.00l4.2,8.2h-8.4zM479.24,398.04l4.2,8.2h-8.4zM483.15,350.95l4.2,8.2h-8.4zM487.05,463.00l4.2,8.2h-8.4zM490.96,484.93l4.2,8.2h-8.4zM494.86,431.33l4.2,8.2h-8.4zM498.77,461.38l4.2,8.2h-8.4zM502.67,442.30l4.2,8.2h-8.4zM506.58,500.76l4.2,8.2h-8.4zM510.48,450.42l4.2,8.2h-8.4zM514.39,486.55l4.2,8.2h-8.4zM518.29,361.91l4.2,8.2h-8.4zM522.20,483.30l4.2,8.2h-8.4zM526.11,467.47l4.2,8.2h-8.4zM530.01,447.17l4.2,8.2h-8.4zM533.91,447.17l4.2,8.2h-8.4zM537.82,341.20l4.2,8.2h-8.4zM541.72,420.37l4.2,8.2h-8.4zM545.63,467.47l4.2,8.2h-8.4zM549.53,442.30l4.2,8.2h-8.4zM553.44,467.47l4.2,8.2h-8.4zM557.35,480.05l4.2,8.2h-8.4zM561.25,422.00l4.2,8.2h-8.4zM565.15,483.30l4.2,8.2h-8.4zM569.06,413.88l4.2,8.2h-8.4zM572.96,423.21l4.2,8.2h-8.4zM576.87,514.97l4.2,8.2h-8.4zM580.77,470.31l4.2,8.2h-8.4zM584.68,415.09l4.2,8.2h-8.4zM588.59,421.18l4.2,8.2h-8.4zM592.49,389.52l4.2,8.2h-8.4zM596.39,427.68l4.2,8.2h-8.4zM600.30,392.76l4.2,8.2h-8.4zM604.20,429.30l4.2,8.2h-8.4zM608.11,386.67l4.2,8.2h-8.4zM612.01,340.80l4.2,8.2h-8.4zM615.92,378.55l4.2,8.2h-8.4zM619.83,479.65l4.2,8.2h-8.4zM623.73,493.86l4.2,8.2h-8.4zM627.63,467.06l4.2,8.2h-8.4zM631.54,467.06l4.2,8.2h-8.4zM635.44,433.77l4.2,8.2h-8.4zM639.35,476.40l4.2,8.2h-8.4zM643.25,309.94l4.2,8.2h-8.4zM647.16,454.48l4.2,8.2h-8.4zM651.07,417.94l4.2,8.2h-8.4zM654.97,514.56l4.2,8.2h-8.4zM658.88,415.09l4.2,8.2h-8.4zM662.78,519.03l4.2,8.2h-8.4zM666.68,429.30l4.2,8.2h-8.4zM670.59,417.94l4.2,8.2h-8.4zM674.49,406.97l4.2,8.2h-8.4zM678.40,392.76l4.2,8.2h-8.4zM682.31,514.56l4.2,8.2h-8.4zM686.21,523.90l4.2,8.2h-8.4zM690.12,413.88l4.2,8.2h-8.4zM694.02,500.76l4.2,8.2h-8.4zM697.92,472.34l4.2,8.2h-8.4zM701.83,426.46l4.2,8.2h-8.4zM705.73,451.63l4.2,8.2h-8.4zM709.64,459.75l4.2,8.2h-8.4zM713.55,481.68l4.2,8.2h-8.4zM717.45,442.30l4.2,8.2h-8.4zM721.36,461.38l4.2,8.2h-8.4zM725.26,360.28l4.2,8.2h-8.4zM729.16,417.12l4.2,8.2h-8.4zM733.07,398.04l4.2,8.2h-8.4zM736.97,454.88l4.2,8.2h-8.4zM740.88,410.63l4.2,8.2h-8.4zM744.78,504.82l4.2,8.2h-8.4zM748.69,503.20l4.2,8.2h-8.4zM752.60,512.94l4.2,8.2h-8.4zM756.50,415.91l4.2,8.2h-8.4zM760.40,438.64l4.2,8.2h-8.4zM764.31,493.86l4.2,8.2h-8.4zM768.21,463.81l4.2,8.2h-8.4zM772.12,447.98l4.2,8.2h-8.4zM776.02,471.93l4.2,8.2h-8.4zM779.93,443.51l4.2,8.2h-8.4zM783.84,456.10l4.2,8.2h-8.4zM787.74,490.61l4.2,8.2h-8.4zM791.64,451.23l4.2,8.2h-8.4zM795.55,381.80l4.2,8.2h-8.4zM799.45,440.27l4.2,8.2h-8.4zM803.36,467.47l4.2,8.2h-8.4zM807.26,486.55l4.2,8.2h-8.4zM811.17,464.63l4.2,8.2h-8.4zM815.08,439.05l4.2,8.2h-8.4zM818.98,426.46l4.2,8.2h-8.4zM822.88,406.16l4.2,8.2h-8.4zM826.79,434.58l4.2,8.2h-8.4zM830.69,470.72l4.2,8.2h-8.4zM834.60,401.29l4.2,8.2h-8.4zM838.50,465.84l4.2,8.2h-8.4zM842.41,450.42l4.2,8.2h-8.4zM846.32,409.00l4.2,8.2h-8.4zM850.22,483.30l4.2,8.2h-8.4zM854.12,309.94l4.2,8.2h-8.4zM858.03,418.75l4.2,8.2h-8.4zM861.93,365.16l4.2,8.2h-8.4zM865.84,447.17l4.2,8.2h-8.4zM869.74,393.58l4.2,8.2h-8.4zM873.65,458.13l4.2,8.2h-8.4zM877.56,459.75l4.2,8.2h-8.4zM881.46,470.72l4.2,8.2h-8.4zM885.37,453.26l4.2,8.2h-8.4zM889.27,431.33l4.2,8.2h-8.4zM893.17,494.26l4.2,8.2h-8.4zM897.08,431.33l4.2,8.2h-8.4zM900.98,328.62l4.2,8.2h-8.4zM904.89,465.84l4.2,8.2h-8.4zM908.79,491.42l4.2,8.2h-8.4zM912.70,415.50l4.2,8.2h-8.4zM916.61,394.79l4.2,8.2h-8.4zM920.51,493.05l4.2,8.2h-8.4zM924.41,478.84l4.2,8.2h-8.4zM928.32,443.92l4.2,8.2h-8.4zM932.22,489.80l4.2,8.2h-8.4zM936.13,431.33l4.2,8.2h-8.4zM940.03,494.26l4.2,8.2h-8.4zM943.94,443.92l4.2,8.2h-8.4zM947.85,483.30l4.2,8.2h-8.4zM951.75,451.63l4.2,8.2h-8.4zM955.65,379.37l4.2,8.2h-8.4zM959.56,406.16l4.2,8.2h-8.4zM963.46,486.55l4.2,8.2h-8.4zM967.37,439.45l4.2,8.2h-8.4zM971.27,457.72l4.2,8.2h-8.4zM975.18,446.76l4.2,8.2h-8.4zM979.09,434.58l4.2,8.2h-8.4zM982.99,467.06l4.2,8.2h-8.4zM986.89,459.75l4.2,8.2h-8.4z"/>
<polyline points="135.60,298.20 139.51,379.40 143.41,330.68 147.32,306.32 151.22,294.14 155.13,306.32 159.03,302.26 162.94,355.04 166.84,367.22 170.75,257.60 174.65,338.80 178.56,338.80 182.46,403.76 186.37,322.56 190.27,314.44 194.18,359.10 198.08,277.90 201.99,314.44 205.89,330.68 209.80,241.36 213.70,212.94 217.61,310.38 221.51,249.48 225.42,318.50 229.32,253.54 233.23,334.74 237.13,229.18 241.04,249.48 244.94,411.88 248.85,257.60 252.75,286.02 256.66,326.62 260.56,253.54 264.47,290.08 268.38,298.20 272.28,269.78 276.18,91.14 280.09,192.64 284.00,245.42 287.90,281.96 291.80,273.84 295.71,139.86 299.62,326.62 303.52,143.92 307.42,346.92 311.33,212.94 315.24,225.12 319.14,334.74 323.04,188.58 326.95,249.48 330.86,192.64 334.76,135.80 338.66,269.78 342.57,233.24 346.47,22.12 350.38,241.36 354.28,212.94 358.19,95.20 362.09,298.20 366.00,277.90 369.90,265.72 373.81,221.06 377.71,245.42 381.62,91.14 385.52,290.08 389.43,298.20 393.33,261.66 397.24,58.66 401.14,164.22 405.05,229.18 408.95,119.56 412.86,172.34 416.76,346.92 420.67,298.20 424.57,225.12 428.48,184.52 432.38,273.84 436.29,196.70 440.19,212.94 444.10,306.32 448.00,330.68 451.91,188.58 455.81,237.30 459.72,306.32 463.62,107.38 467.53,188.58 471.43,277.90 475.34,91.14 479.24,261.66 483.15,38.36 487.05,286.02 490.96,334.74 494.86,204.82 498.77,233.24 502.67,74.90 506.58,103.32 510.48,302.26 514.39,164.22 518.29,241.36 522.20,245.42 526.11,310.38 530.01,225.12 533.91,188.58 537.82,184.52 541.72,131.74 545.63,294.14 549.53,103.32 553.44,286.02 557.35,233.24 561.25,273.84 565.15,383.46 569.06,180.46 572.96,139.86 576.87,286.02 580.77,204.82 584.68,196.70 588.59,261.66 592.49,257.60 596.39,294.14 600.30,123.62 604.20,310.38 608.11,212.94 612.01,139.86 615.92,42.42 619.83,176.40 623.73,225.12 627.63,241.36 631.54,249.48 635.44,208.88 639.35,225.12 643.25,180.46 647.16,273.84 651.07,269.78 654.97,269.78 658.88,204.82 662.78,245.42 666.68,257.60 670.59,139.86 674.49,277.90 678.40,225.12 682.31,131.74 686.21,420.00 690.12,346.92 694.02,123.62 697.92,233.24 701.83,241.36 705.73,269.78 709.64,180.46 713.55,164.22 717.45,294.14 721.36,147.98 725.26,42.42 729.16,30.24 733.07,310.38 736.97,237.30 740.88,-6.30 744.78,156.10 748.69,147.98 752.60,245.42 756.50,273.84 760.40,200.76 764.31,286.02 768.21,204.82 772.12,196.70 776.02,168.28 779.93,176.40 783.84,273.84 787.74,172.34 791.64,212.94 795.55,95.20 799.45,196.70 803.36,281.96 807.26,99.26 811.17,192.64 815.08,54.60 818.98,306.32 822.88,192.64 826.79,212.94 830.69,204.82 834.60,249.48 838.50,245.42 842.41,180.46 846.32,180.46 850.22,338.80 854.12,281.96 858.03,58.66 861.93,143.92 865.84,160.16 869.74,338.80 873.65,192.64 877.56,314.44 881.46,164.22 885.37,176.40 889.27,184.52 893.17,147.98 897.08,257.60 900.98,-6.30 904.89,221.06 908.79,196.70 912.70,204.82 916.61,78.96 920.51,184.52 924.41,83.02 928.32,225.12 932.22,95.20 936.13,261.66 940.03,245.42 943.94,42.42 947.85,188.58 951.75,168.28 955.65,249.48 959.56,265.72 963.46,229.18 967.37,204.82 971.27,139.86 975.18,265.72 979.09,237.30 982.99,139.86 986.89,217.00" fill="none" stroke="#f00" stroke-width="2.0" stroke-linejoin="miter" stroke-miterlimit="3"/>
<path fill="none" stroke="#f00" stroke-width="1.0" d="M131.70,298.20h7.8M135.60,294.70v7M131.91,294.90l7.4,6.6M131.91,301.50l7.4,-6.6M135.61,379.40h7.8M139.51,375.90v7M135.81,376.10l7.4,6.6M135.81,382.70l7.4,-6.6M139.51,330.68h7.8M143.41,327.18v7M139.72,327.38l7.4,6.6M139.72,333.98l7.4,-6.6M143.42,306.32h7.8M147.32,302.82v7M143.62,303.02l7.4,6.6M143.62,309.62l7.4,-6.6M147.32,294.14h7.8M151.22,290.64v7M147.53,290.84l7.4,6.6M147.53,297.44l7.4,-6.6M151.23,306.32h7.8M155.13,302.82v7M151.43,303.02l7.4,6.6M151.43,309.62l7.4,-6.6M155.13,302.26h7.8M159.03,298.76v7M155.34,298.96l7.4,6.6M155.34,305.56l7.4,-6.6M159.04,355.04h7.8M162.94,351.54v7M159.24,351.74l7.4,6.6M159.24,358.34l7.4,-6.6M162.94,367.22h7.8M166.84,363.72v7M163.14,363.92l7.4,6.6M163.14,370.52l7.4,-6.6M166.85,257.60h7.8M170.75,254.10v7M167.05,254.30l7.4,6.6M167.05,260.90l7.4,-6.6M170.75,338.80h7.8M174.65,335.30v7M170.95,335.50l7.4,6.6M170.95,342.10l7.4,-6.6M174.66,338.80h7.8M178.56,335.30v7M174.86,335.50l7.4,6.6M174.86,342.10l7.4,-6.6M178.56,403.76h7.8M182.46,400.26v7M178.76,400.46l7.4,6.6M178.76,407.06l7.4,-6.6M182.47,322.56h7.8M186.37,319.06v7M182.67,319.26l7.4,6.6M182.67,325.86l7.4,-6.6M186.37,314.44h7.8M190.27,310.94v7M186.57,311.14l7.4,6.6M186.57,317.74l7.4,-6.6M190.28,359.10h7.8M194.18,355.60v7M190.48,355.80l7.4,6.6M190.48,362.40l7.4,-6.6M194.18,277.90h7.8M198.08,274.40v7M194.38,274.60l7.4,6.6M194.38,281.20l7.4,-6.6M198.09,314.44h7.8M201.99,310.94v7M198.29,311.14l7.4,6.6M198.29,317.74l7.4,-6.6M201.99,330.68h7.8M205.89,327.18v7M202.19,327.38l7.4,6.6M202.19,333.98l7.4,-6.6M205.90,241.36h7.8M209.80,237.86v7M206.10,238.06l7.4,6.6M206.10,244.66l7.4,-6.6M209.80,212.94h7.8M213.70,209.44v7M210.00,209.64l7.4,6.6M210.00,216.24l7.4,-6.6M213.71,310.38h7.8M217.61,306.88v7M213.91,307.08l7.4,6.6M213.91,313.68l7.4,-6.6M217.61,249.48h7.8M221.51,245.98v7M217.81,246.18l7.4,6.6M217.81,252.78l7.4,-6.6M221.52,318.50h7.8M225.42,315.00v7M221.72,315.20l7.4,6.6M221.72,321.80l7.4,-6.6M225.42,253.54h7.8M229.32,250.04v7M225.62,250.24l7.4,6.6M225.62,256.84l7.4,-6.6M229.33,334.74h7.8M233.23,331.24v7M229.53,331.44l7.4,6.6M229.53,338.04l7.4,-6.6M233.23,229.18h7.8M237.13,225.68v7M233.44,225.88l7.4,6.6M233.44,232.48l7.4,-6.6M237.14,249.48h7.8M241.04,245.98v7M237.34,246.18l7.4,6.6M237.34,252.78l7.4,-6.6M241.04,411.88h7.8M244.94,408.38v7M241.25,408.58l7.4,6.6M241.25,415.18l7.4,-6.6M244.95,257.60h7.8M248.85,254.10v7M245.15,254.30l7.4,6.6M245.15,260.90l7.4,-6.6M248.85,286.02h7.8M252.75,282.52v7M249.06,282.72l7.4,6.6M249.06,289.32l7.4,-6.6M252.76,326.62h7.8M256.66,323.12v7M252.96,323.32l7.4,6.6M252.96,329.92l7.4,-6.6M256.66,253.54h7.8M260.56,250.04v7M256.86,250.24l7.4,6.6M256.86,256.84l7.4,-6.6M260.57,290.08h7.8M264.47,286.58v7M260.77,286.78l7.4,6.6M260.77,293.38l7.4,-6.6M264.48,298.20h7.8M268.38,294.70v7M264.68,294.90l7.4,6.6M264.68,301.50l7.4,-6.6M268.38,269.78h7.8M272.28,266.28v7M268.58,266.48l7.4,6.6M268.58,273.08l7.4,-6.6M272.28,91.14h7.8M276.18,87.64v7M272.48,87.84l7.4,6.6M272.48,94.44l7.4,-6.6M276.19,192.64h7.8M280.09,189.14v7M276.39,189.34l7.4,6.6M276.39,195.94l7.4,-6.6M280.10,245.42h7.8M284.00,241.92v7M280.30,242.12l7.4,6.6M280.30,248.72l7.4,-6.6M284.00,281.96h7.8M287.90,278.46v7M284.20,278.66l7.4,6.6M284.20,285.26l7.4,-6.6M287.90,273.84h7.8M291.80,270.34v7M288.10,270.54l7.4,6.6M288.10,277.14l7.4,-6.6M291.81,139.86h7.8M295.71,136.36v7M292.01,136.56l7.4,6.6M292.01,143.16l7.4,-6.6M295.72,326.62h7.8M299.62,323.12v7M295.92,323.32l7.4,6.6M295.92,329.92l7.4,-6.6M299.62,143.92h7.8M303.52,140.42v7M299.82,140.62l7.4,6.6M299.82,147.22l7.4,-6.6M303.52,346.92h7.8M307.42,343.42v7M303.72,343.62l7.4,6.6M303.72,350.22l7.4,-6.6M307.43,212.94h7.8M311.33,209.44v7M307.63,209.64l7.4,6.6M307.63,216.24l7.4,-6.6M311.34,225.12h7.8M315.24,221.62v7M311.54,221.82l7.4,6.6M311.54,228.42l7.4,-6.6M315.24,334.74h7.8M319.14,331.24v7M315.44,331.44l7.4,6.6M315.44,338.04l7.4,-6.6M319.14,188.58h7.8M323.04,185.08v7M319.34,185.28l7.4,6.6M319.34,191.88l7.4,-6.6M323.05,249.48h7.8M326.95,245.98v7M323.25,246.18l7.4,6.6M323.25,252.78l7.4,-6.6M326.96,192.64h7.8M330.86,189.14v7M327.16,189.34l7.4,6.6M327.16,195.94l7.4,-6.6M330.86,135.80h7.8M334.76,132.30v7M331.06,132.50l7.4,6.6M331.06,139.10l7.4,-6.6M334.76,269.78h7.8M338.66,266.28v7M334.96,266.48l7.4,6.6M334.96,273.08l7.4,-6.6M338.67,233.24h7.8M342.57,229.74v7M338.87,229.94l7.4,6.6M338.87,236.54l7.4,-6.6M342.57,22.12h7.8M346.47,18.62v7M342.77,18.82l7.4,6.6M342.77,25.42l7.4,-6.6M346.48,241.36h7.8M350.38,237.86v7M346.68,238.06l7.4,6.6M346.68,244.66l7.4,-6.6M350.38,212.94h7.8M354.28,209.44v7M350.58,209.64l7.4,6.6M350.58,216.24l7.4,-6.6M354.29,95.20h7.8M358.19,91.70v7M354.49,91.90l7.4,6.6M354.49,98.50l7.4,-6.6M358.19,298.20h7.8M362.09,294.70v7M358.39,294.90l7.4,6.6M358.39,301.50l7.4,-6.6M362.10,277.90h7.8M366.00,274.40v7M362.30,274.60l7.4,6.6M362.30,281.20l7.4,-6.6M366.00,265.72h7.8M369.90,262.22v7M366.20,262.42l7.4,6.6M366.20,269.02l7.4,-6.6M369.91,221.06h7.8M373.81,217.56v7M370.11,217.76l7.4,6.6M370.11,224.36l7.4,-6.6M373.81,245.42h7.8M377.71,241.92v7M374.01,242.12l7.4,6.6M374.01,248.72l7.4,-6.6M377.72,91.14h7.8M381.62,87.64v7M377.92,87.84l7.4,6.6M377.92,94.44l7.4,-6.6M381.62,290.08h7.8M385.52,286.58v7M381.82,286.78l7.4,6.6M381.82,293.38l7.4,-6.6M385.53,298.20h7.8M389.43,294.70v7M385.73,294.90l7.4,6.6M385.73,301.50l7.4,-6.6M389.44,261.66h7.8M393.33,258.16v7M389.63,258.36l7.4,6.6M389.63,264.96l7.4,-6.6M393.34,58.66h7.8M397.24,55.16v7M393.54,55.36l7.4,6.6M393.54,61.96l7.4,-6.6M397.25,164.22h7.8M401.14,160.72v7M397.44,160.92l7.4,6.6M397.44,167.52l7.4,-6.6M401.15,229.18h7.8M405.05,225.68v7M401.35,225.88l7.4,6.6M401.35,232.48l7.4,-6.6M405.06,119.56h7.8M408.95,116.06v7M405.25,116.26l7.4,6.6M405.25,122.86l7.4,-6.6M408.96,172.34h7.8M412.86,168.84v7M409.16,169.04l7.4,6.6M409.16,175.64l7.4,-6.6M412.87,346.92h7.8M416.76,343.42v7M413.06,343.62l7.4,6.6M413.06,350.22l7.4,-6.6M416.77,298.20h7.8M420.67,294.70v7M416.97,294.90l7.4,6.6M416.97,301.50l7.4,-6.6M420.68,225.12h7.8M424.57,221.62v7M420.88,221.82l7.4,6.6M420.88,228.42l7.4,-6.6M424.58,184.52h7.8M428.48,181.02v7M424.78,181.22l7.4,6.6M424.78,187.82l7.4,-6.6M428.49,273.84h7.8M432.38,270.34v7M428.69,270.54l7.4,6.6M428.69,277.14l7.4,-6.6M432.39,196.70h7.8M436.29,193.20v7M432.59,193.40l7.4,6.6M432.59,200.00l7.4,-6.6M436.30,212.94h7.8M440.19,209.44v7M436.50,209.64l7.4,6.6M436.50,216.24l7.4,-6.6M440.20,306.32h7.8M444.10,302.82v7M440.40,303.02l7.4,6.6M440.40,309.62l7.4,-6.6M444.11,330.68h7.8M448.00,327.18v7M444.31,327.38l7.4,6.6M444.31,333.98l7.4,-6.6M448.01,188.58h7.8M451.91,185.08v7M448.21,185.28l7.4,6.6M448.21,191.88l7.4,-6.6M451.92,237.30h7.8M455.81,233.80v7M452.12,234.00l7.4,6.6M452.12,240.60l7.4,-6.6M455.82,306.32h7.8M459.72,302.82v7M456.02,303.02l7.4,6.6M456.02,309.62l7.4,-6.6M459.73,107.38h7.8M463.62,103.88v7M459.93,104.08l7.4,6.6M459.93,110.68l7.4,-6.6M463.63,188.58h7.8M467.53,185.08v7M463.83,185.28l7.4,6.6M463.83,191.88l7.4,-6.6M467.53,277.90h7.8M471.43,274.40v7M467.73,274.60l7.4,6.6M467.73,281.20l7.4,-6.6M471.44,91.14h7.8M475.34,87.64v7M471.64,87.84l7.4,6.6M471.64,94.44l7.4,-6.6M475.34,261.66h7.8M479.24,258.16v7M475.54,258.36l7.4,6.6M475.54,264.96l7.4,-6.6M479.25,38.36h7.8M483.15,34.86v7M479.45,35.06l7.4,6.6M479.45,41.66l7.4,-6.6M483.15,286.02h7.8M487.05,282.52v7M483.35,282.72l7.4,6.6M483.35,289.32l7.4,-6.6M487.06,334.74h7.8M490.96,331.24v7M487.26,331.44l7.4,6.6M487.26,338.04l7.4,-6.6M490.96,204.82h7.8M494.86,201.32v7M491.16,201.52l7.4,6.6M491.16,208.12l7.4,-6.6M494.87,233.24h7.8M498.77,229.74v7M495.07,229.94l7.4,6.6M495.07,236.54l7.4,-6.6M498.77,74.90h7.8M502.67,71.40v7M498.97,71.60l7.4,6.6M498.97,78.20l7.4,-6.6M502.68,103.32h7.8M506.58,99.82v7M502.88,100.02l7.4,6.6M502.88,106.62l7.4,-6.6M506.58,302.26h7.8M510.48,298.76v7M506.78,298.96l7.4,6.6M506.78,305.56l7.4,-6.6M510.49,164.22h7.8M514.39,160.72v7M510.69,160.92l7.4,6.6M510.69,167.52l7.4,-6.6M514.39,241.36h7.8M518.29,237.86v7M514.59,238.06l7.4,6.6M514.59,244.66l7.4,-6.6M518.30,245.42h7.8M522.20,241.92v7M518.50,242.12l7.4,6.6M518.50,248.72l7.4,-6.6M522.21,310.38h7.8M526.11,306.88v7M522.40,307.08l7.4,6.6M522.40,313.68l7.4,-6.6M526.11,225.12h7.8M530.01,221.62v7M526.31,221.82l7.4,6.6M526.31,228.42l7.4,-6.6M530.01,188.58h7.8M533.91,185.08v7M530.21,185.28l7.4,6.6M530.21,191.88l7.4,-6.6M533.92,184.52h7.8M537.82,181.02v7M534.12,181.22l7.4,6.6M534.12,187.82l7.4,-6.6M537.82,131.74h7.8M541.72,128.24v7M538.02,128.44l7.4,6.6M538.02,135.04l7.4,-6.6M541.73,294.14h7.8M545.63,290.64v7M541.93,290.84l7.4,6.6M541.93,297.44l7.4,-6.6M545.63,103.32h7.8M549.53,99.82v7M545.83,100.02l7.4,6.6M545.83,106.62l7.4,-6.6M549.54,286.02h7.8M553.44,282.52v7M549.74,282.72l7.4,6.6M549.74,289.32l7.4,-6.6M553.45,233.24h7.8M557.35,229.74v7M553.64,229.94l7.4,6.6M553.64,236.54l7.4,-6.6M557.35,273.84h7.8M561.25,270.34v7M557.55,270.54l7.4,6.6M557.55,277.14l7.4,-6.6M561.25,383.46h7.8M565.15,379.96v7M561.45,380.16l7.4,6.6M561.45,386.76l7.4,-6.6M565.16,180.46h7.8M569.06,176.96v7M565.36,177.16l7.4,6.6M565.36,183.76l7.4,-6.6M569.06,139.86h7.8M572.96,136.36v7M569.26,136.56l7.4,6.6M569.26,143.16l7.4,-6.6M572.97,286.02h7.8M576.87,282.52v7M573.17,282.72l7.4,6.6M573.17,289.32l7.4,-6.6M576.88,204.82h7.8M580.77,201.32v7M577.07,201.52l7.4,6.6M577.07,208.12l7.4,-6.6M580.78,196.70h7.8M584.68,193.20v7M580.98,193.40l7.4,6.6M580.98,200.00l7.4,-6.6M584.69,261.66h7.8M588.59,258.16v7M584.88,258.36l7.4,6.6M584.88,264.96l7.4,-6.6M588.59,257.60h7.8M592.49,254.10v7M588.79,254.30l7.4,6.6M588.79,260.90l7.4,-6.6M592.50,294.14h7.8M596.39,290.64v7M592.69,290.84l7.4,6.6M592.69,297.44l7.4,-6.6M596.40,123.62h7.8M600.30,120.12v7M596.60,120.32l7.4,6.6M596.60,126.92l7.4,-6.6M600.30,310.38h7.8M604.20,306.88v7M600.50,307.08l7.4,6.6M600.50,313.68l7.4,-6.6M604.21,212.94h7.8M608.11,209.44v7M604.41,209.64l7.4,6.6M604.41,216.24l7.4,-6.6M608.12,139.86h7.8M612.01,136.36v7M608.31,136.56l7.4,6.6M608.31,143.16l7.4,-6.6M612.02,42.42h7.8M615.92,38.92v7M612.22,39.12l7.4,6.6M612.22,45.72l7.4,-6.6M615.93,176.40h7.8M619.83,172.90v7M616.12,173.10l7.4,6.6M616.12,179.70l7.4,-6.6M619.83,225.12h7.8M623.73,221.62v7M620.03,221.82l7.4,6.6M620.03,228.42l7.4,-6.6M623.74,241.36h7.8M627.63,237.86v7M623.93,238.06l7.4,6.6M623.93,244.66l7.4,-6.6M627.64,249.48h7.8M631.54,245.98v7M627.84,246.18l7.4,6.6M627.84,252.78l7.4,-6.6M631.54,208.88h7.8M635.44,205.38v7M631.74,205.58l7.4,6.6M631.74,212.18l7.4,-6.6M635.45,225.12h7.8M639.35,221.62v7M635.65,221.82l7.4,6.6M635.65,228.42l7.4,-6.6M639.35,180.46h7.8M643.25,176.96v7M639.55,177.16l7.4,6.6M639.55,183.76l7.4,-6.6M643.26,273.84h7.8M647.16,270.34v7M643.46,270.54l7.4,6.6M643.46,277.14l7.4,-6.6M647.17,269.78h7.8M651.07,266.28v7M647.37,266.48l7.4,6.6M647.37,273.08l7.4,-6.6M651.07,269.78h7.8M654.97,266.28v7M651.27,266.48l7.4,6.6M651.27,273.08l7.4,-6.6M654.98,204.82h7.8M658.88,201.32v7M655.17,201.52l7.4,6.6M655.17,208.12l7.4,-6.6M658.88,245.42h7.8M662.78,241.92v7M659.08,242.12l7.4,6.6M659.08,248.72l7.4,-6.6M662.78,257.60h7.8M666.68,254.10v7M662.98,254.30l7.4,6.6M662.98,260.90l7.4,-6.6M666.69,139.86h7.8M670.59,136.36v7M666.89,136.56l7.4,6.6M666.89,143.16l7.4,-6.6M670.59,277.90h7.8M674.49,274.40v7M670.79,274.60l7.4,6.6M670.79,281.20l7.4,-6.6M674.50,225.12h7.8M678.40,221.62v7M674.70,221.82l7.4,6.6M674.70,228.42l7.4,-6.6M678.41,131.74h7.8M682.31,128.24v7M678.61,128.44l7.4,6.6M678.61,135.04l7.4,-6.6M682.31,420.00h7.8M686.21,416.50v7M682.51,416.70l7.4,6.6M682.51,423.30l7.4,-6.6M686.22,346.92h7.8M690.12,343.42v7M686.41,343.62l7.4,6.6M686.41,350.22l7.4,-6.6M690.12,123.62h7.8M694.02,120.12v7M690.32,120.32l7.4,6.6M690.32,126.92l7.4,-6.6M694.02,233.24h7.8M697.92,229.74v7M694.22,229.94l7.4,6.6M694.22,236.54l7.4,-6.6M697.93,241.36h7.8M701.83,237.86v7M698.13,238.06l7.4,6.6M698.13,244.66l7.4,-6.6M701.83,269.78h7.8M705.73,266.28v7M702.03,266.48l7.4,6.6M702.03,273.08l7.4,-6.6M705.74,180.46h7.8M709.64,176.96v7M705.94,177.16l7.4,6.6M705.94,183.76l7.4,-6.6M709.65,164.22h7.8M713.55,160.72v7M709.85,160.92l7.4,6.6M709.85,167.52l7.4,-6.6M713.55,294.14h7.8M717.45,290.64v7M713.75,290.84l7.4,6.6M713.75,297.44l7.4,-6.6M717.46,147.98h7.8M721.36,144.48v7M717.65,144.68l7.4,6.6M717.65,151.28l7.4,-6.6M721.36,42.42h7.8M725.26,38.92v7M721.56,39.12l7.4,6.6M721.56,45.72l7.4,-6.6M725.26,30.24h7.8M729.16,26.74v7M725.46,26.94l7.4,6.6M725.46,33.54l7.4,-6.6M729.17,310.38h7.8M733.07,306.88v7M729.37,307.08l7.4,6.6M729.37,313.68l7.4,-6.6M733.07,237.30h7.8M736.97,233.80v7M733.27,234.00l7.4,6.6M733.27,240.60l7.4,-6.6M736.98,-6.30h7.8M740.88,-9.80v7M737.18,-9.60l7.4,6.6M737.18,-3.00l7.4,-6.6M740.88,156.10h7.8M744.78,152.60v7M741.08,152.80l7.4,6.6M741.08,159.40l7.4,-6.6M744.79,147.98h7.8M748.69,144.48v7M744.99,144.68l7.4,6.6M744.99,151.28l7.4,-6.6M748.70,245.42h7.8M752.60,241.92v7M748.89,242.12l7.4,6.6M748.89,248.72l7.4,-6.6M752.60,273.84h7.8M756.50,270.34v7M752.80,270.54l7.4,6.6M752.80,277.14l7.4,-6.6M756.50,200.76h7.8M760.40,197.26v7M756.70,197.46l7.4,6.6M756.70,204.06l7.4,-6.6M760.41,286.02h7.8M764.31,282.52v7M760.61,282.72l7.4,6.6M760.61,289.32l7.4,-6.6M764.31,204.82h7.8M768.21,201.32v7M764.51,201.52l7.4,6.6M764.51,208.12l7.4,-6.6M768.22,196.70h7.8M772.12,193.20v7M768.42,193.40l7.4,6.6M768.42,200.00l7.4,-6.6M772.12,168.28h7.8M776.02,164.78v7M772.32,164.98l7.4,6.6M772.32,171.58l7.4,-6.6M776.03,176.40h7.8M779.93,172.90v7M776.23,173.10l7.4,6.6M776.23,179.70l7.4,-6.6M779.94,273.84h7.8M783.84,270.34v7M780.13,270.54l7.4,6.6M780.13,277.14l7.4,-6.6M783.84,172.34h7.8M787.74,168.84v7M784.04,169.04l7.4,6.6M784.04,175.64l7.4,-6.6M787.75,212.94h7.8M791.64,209.44v7M787.94,209.64l7.4,6.6M787.94,216.24l7.4,-6.6M791.65,95.20h7.8M795.55,91.70v7M791.85,91.90l7.4,6.6M791.85,98.50l7.4,-6.6M795.55,196.70h7.8M799.45,193.20v7M795.75,193.40l7.4,6.6M795.75,200.00l7.4,-6.6M799.46,281.96h7.8M803.36,278.46v7M799.66,278.66l7.4,6.6M799.66,285.26l7.4,-6.6M803.36,99.26h7.8M807.26,95.76v7M803.56,95.96l7.4,6.6M803.56,102.56l7.4,-6.6M807.27,192.64h7.8M811.17,189.14v7M807.47,189.34l7.4,6.6M807.47,195.94l7.4,-6.6M811.18,54.60h7.8M815.08,51.10v7M811.38,51.30l7.4,6.6M811.38,57.90l7.4,-6.6M815.08,306.32h7.8M818.98,302.82v7M815.28,303.02l7.4,6.6M815.28,309.62l7.4,-6.6M818.99,192.64h7.8M822.88,189.14v7M819.18,189.34l7.4,6.6M819.18,195.94l7.4,-6.6M822.89,212.94h7.8M826.79,209.44v7M823.09,209.64l7.4,6.6M823.09,216.24l7.4,-6.6M826.79,204.82h7.8M830.69,201.32v7M826.99,201.52l7.4,6.6M826.99,208.12l7.4,-6.6M830.70,249.48h7.8M834.60,245.98v7M830.90,246.18l7.4,6.6M830.90,252.78l7.4,-6.6M834.60,245.42h7.8M838.50,241.92v7M834.80,242.12l7.4,6.6M834.80,248.72l7.4,-6.6M838.51,180.46h7.8M842.41,176.96v7M838.71,177.16l7.4,6.6M838.71,183.76l7.4,-6.6M842.42,180.46h7.8M846.32,176.96v7M842.62,177.16l7.4,6.6M842.62,183.76l7.4,-6.6M846.32,338.80h7.8M850.22,335.30v7M846.52,335.50l7.4,6.6M846.52,342.10l7.4,-6.6M850.23,281.96h7.8M854.12,278.46v7M850.42,278.66l7.4,6.6M850.42,285.26l7.4,-6.6M854.13,58.66h7.8M858.03,55.16v7M854.33,55.36l7.4,6.6M854.33,61.96l7.4,-6.6M858.03,143.92h7.8M861.93,140.42v7M858.23,140.62l7.4,6.6M858.23,147.22l7.4,-6.6M861.94,160.16h7.8M865.84,156.66v7M862.14,156.86l7.4,6.6M862.14,163.46l7.4,-6.6M865.84,338.80h7.8M869.74,335.30v7M866.04,335.50l7.4,6.6M866.04,342.10l7.4,-6.6M869.75,192.64h7.8M873.65,189.14v7M869.95,189.34l7.4,6.6M869.95,195.94l7.4,-6.6M873.66,314.44h7.8M877.56,310.94v7M873.86,311.14l7.4,6.6M873.86,317.74l7.4,-6.6M877.56,164.22h7.8M881.46,160.72v7M877.76,160.92l7.4,6.6M877.76,167.52l7.4,-6.6M881.47,176.40h7.8M885.37,172.90v7M881.66,173.10l7.4,6.6M881.66,179.70l7.4,-6.6M885.37,184.52h7.8M889.27,181.02v7M885.57,181.22l7.4,6.6M885.57,187.82l7.4,-6.6M889.27,147.98h7.8M893.17,144.48v7M889.47,144.68l7.4,6.6M889.47,151.28l7.4,-6.6M893.18,257.60h7.8M897.08,254.10v7M893.38,254.30l7.4,6.6M893.38,260.90l7.4,-6.6M897.08,-6.30h7.8M900.98,-9.80v7M897.28,-9.60l7.4,6.6M897.28,-3.00l7.4,-6.6M900.99,221.06h7.8M904.89,217.56v7M901.19,217.76l7.4,6.6M901.19,224.36l7.4,-6.6M904.89,196.70h7.8M908.79,193.20v7M905.09,193.40l7.4,6.6M905.09,200.00l7.4,-6.6M908.80,204.82h7.8M912.70,201.32v7M909.00,201.52l7.4,6.6M909.00,208.12l7.4,-6.6M912.71,78.96h7.8M916.61,75.46v7M912.90,75.66l7.4,6.6M912.90,82.26l7.4,-6.6M916.61,184.52h7.8M920.51,181.02v7M916.81,181.22l7.4,6.6M916.81,187.82l7.4,-6.6M920.51,83.02h7.8M924.41,79.52v7M920.71,79.72l7.4,6.6M920.71,86.32l7.4,-6.6M924.42,225.12h7.8M928.32,221.62v7M924.62,221.82l7.4,6.6M924.62,228.42l7.4,-6.6M928.32,95.20h7.8M932.22,91.70v7M928.52,91.90l7.4,6.6M928.52,98.50l7.4,-6.6M932.23,261.66h7.8M936.13,258.16v7M932.43,258.36l7.4,6.6M932.43,264.96l7.4,-6.6M936.13,245.42h7.8M940.03,241.92v7M936.33,242.12l7.4,6.6M936.33,248.72l7.4,-6.6M940.04,42.42h7.8M943.94,38.92v7M940.24,39.12l7.4,6.6M940.24,45.72l7.4,-6.6M943.95,188.58h7.8M947.85,185.08v7M944.14,185.28l7.4,6.6M944.14,191.88l7.4,-6.6M947.85,168.28h7.8M951.75,164.78v7M948.05,164.98l7.4,6.6M948.05,171.58l7.4,-6.6M951.75,249.48h7.8M955.65,245.98v7M951.95,246.18l7.4,6.6M951.95,252.78l7.4,-6.6M955.66,265.72h7.8M959.56,262.22v7M955.86,262.42l7.4,6.6M955.86,269.02l7.4,-6.6M959.56,229.18h7.8M963.46,225.68v7M959.76,225.88l7.4,6.6M959.76,232.48l7.4,-6.6M963.47,204.82h7.8M967.37,201.32v7M963.67,201.52l7.4,6.6M963.67,208.12l7.4,-6.6M967.37,139.86h7.8M971.27,136.36v7M967.57,136.56l7.4,6.6M967.57,143.16l7.4,-6.6M971.28,265.72h7.8M975.18,262.22v7M971.48,262.42l7.4,6.6M971.48,269.02l7.4,-6.6M975.19,237.30h7.8M979.09,233.80v7M975.38,234.00l7.4,6.6M975.38,240.60l7.4,-6.6M979.09,139.86h7.8M982.99,136.36v7M979.29,136.56l7.4,6.6M979.29,143.16l7.4,-6.6M983.00,217.00h7.8M986.89,213.50v7M983.19,213.70l7.4,6.6M983.19,220.30l7.4,-6.6"/>
<polyline points="135.60,651.42 139.51,651.42 143.41,647.36 147.32,647.36 151.22,647.36 155.13,647.36 159.03,647.36 162.94,643.30 166.84,643.30 170.75,643.30 174.65,643.30 178.56,643.30 182.46,643.30 186.37,643.30 190.27,643.30 194.18,640.86 198.08,639.24 201.99,638.02 205.89,635.18 209.80,635.18 213.70,633.15 217.61,631.12 221.51,631.12 225.42,623.00 229.32,623.00 233.23,614.88 237.13,602.70 241.04,590.52 244.94,582.40 248.85,582.40 252.75,578.34 256.66,574.28 260.56,574.28 264.47,570.22 268.38,566.16 272.28,562.10 276.18,562.10 280.09,562.10 284.00,558.04 287.90,558.04 291.80,558.04 295.71,558.04 299.62,558.04 303.52,553.98 307.42,553.98 311.33,553.98 315.24,553.98 319.14,553.98 323.04,553.98 326.95,549.92 330.86,549.92 334.76,549.92 338.66,549.92 342.57,549.92 346.47,549.92 350.38,549.92 354.28,541.80 358.19,541.80 362.09,541.80 366.00,537.74 369.90,537.74 373.81,537.74 377.71,537.74 381.62,537.74 385.52,537.74 389.43,537.74 393.33,533.68 397.24,533.68 401.14,533.68 405.05,533.68 408.95,533.68 412.86,529.62 416.76,529.62 420.67,529.62 424.57,529.62 428.48,529.62 432.38,529.62 436.29,529.62 440.19,529.62 444.10,529.62 448.00,529.62 451.91,525.56 455.81,525.56 459.72,525.56 463.62,525.56 467.53,525.56 471.43,525.56 475.34,525.56 479.24,521.50 483.15,521.50 487.05,521.50 490.96,521.50 494.86,521.50 498.77,517.44 502.67,517.44 506.58,517.44 510.48,517.44 514.39,517.44 518.29,517.44 522.20,513.38 526.11,513.38 530.01,509.32 533.91,509.32 537.82,509.32 541.72,509.32 545.63,509.32 549.53,509.32 553.44,509.32 557.35,509.32 561.25,509.32 565.15,509.32 569.06,505.26 572.96,505.26 576.87,505.26 580.77,505.26 584.68,505.26 588.59,505.26 592.49,505.26 596.39,505.26 600.30,505.26 604.20,505.26 608.11,498.36 612.01,498.36 615.92,498.36 619.83,498.36 623.73,498.36 627.63,498.36 631.54,498.36 635.44,493.08 639.35,493.08 643.25,493.08 647.16,493.08 651.07,493.08 654.97,493.08 658.88,493.08 662.78,489.02 666.68,489.02 670.59,489.02 674.49,489.02 678.40,489.02 682.31,489.02 686.21,484.96 690.12,484.96 694.02,484.96 697.92,484.96 701.83,484.96 705.73,484.96 709.64,484.96 713.55,480.90 717.45,480.90 721.36,476.84 725.26,476.84 729.16,476.84 733.07,476.84 736.97,476.84 740.88,476.84 744.78,476.84 748.69,476.84 752.60,472.78 756.50,472.78 760.40,472.78 764.31,472.78 768.21,472.78 772.12,472.78 776.02,468.72 779.93,468.72 783.84,468.72 787.74,468.72 791.64,464.66 795.55,464.66 799.45,464.66 803.36,458.57 807.26,458.57 811.17,458.57 815.08,452.48 818.98,452.48 822.88,452.48 826.79,452.48 830.69,452.48 834.60,452.48 838.50,452.48 842.41,444.36 846.32,444.36 850.22,444.36 854.12,444.36 858.03,444.36 861.93,444.36 865.84,444.36 869.74,440.30 873.65,436.24 877.56,436.24 881.46,436.24 885.37,436.24 889.27,436.24 893.17,428.12 897.08,428.12 900.98,428.12 904.89,428.12 908.79,428.12 912.70,428.12 916.61,428.12 920.51,428.12 924.41,428.12 928.32,420.00 932.22,420.00 936.13,420.00 940.03,420.00 943.94,420.00 947.85,415.94 951.75,415.94 955.65,409.85 959.56,403.76 963.46,403.76 967.37,403.76 971.27,403.76 975.18,399.70 979.09,399.70 982.99,399.70 986.89,395.64" fill="none" stroke="#555" stroke-width="1.1"/>
<path fill="none" stroke="#333" stroke-width="1.0" d="M135.60,647.82v7.2M132.41,651.42h6.4M139.51,647.82v7.2M136.31,651.42h6.4M143.41,643.76v7.2M140.22,647.36h6.4M147.32,643.76v7.2M144.12,647.36h6.4M151.22,643.76v7.2M148.03,647.36h6.4M155.13,643.76v7.2M151.93,647.36h6.4M159.03,643.76v7.2M155.84,647.36h6.4M162.94,639.70v7.2M159.74,643.30h6.4M166.84,639.70v7.2M163.64,643.30h6.4M170.75,639.70v7.2M167.55,643.30h6.4M174.65,639.70v7.2M171.45,643.30h6.4M178.56,639.70v7.2M175.36,643.30h6.4M182.46,639.70v7.2M179.26,643.30h6.4M186.37,639.70v7.2M183.17,643.30h6.4M190.27,639.70v7.2M187.07,643.30h6.4M194.18,637.26v7.2M190.98,640.86h6.4M198.08,635.64v7.2M194.88,639.24h6.4M201.99,634.42v7.2M198.79,638.02h6.4M205.89,631.58v7.2M202.69,635.18h6.4M209.80,631.58v7.2M206.60,635.18h6.4M213.70,629.55v7.2M210.50,633.15h6.4M217.61,627.52v7.2M214.41,631.12h6.4M221.51,627.52v7.2M218.31,631.12h6.4M225.42,619.40v7.2M222.22,623.00h6.4M229.32,619.40v7.2M226.12,623.00h6.4M233.23,611.28v7.2M230.03,614.88h6.4M237.13,599.10v7.2M233.94,602.70h6.4M241.04,586.92v7.2M237.84,590.52h6.4M244.94,578.80v7.2M241.75,582.40h6.4M248.85,578.80v7.2M245.65,582.40h6.4M252.75,574.74v7.2M249.56,578.34h6.4M256.66,570.68v7.2M253.46,574.28h6.4M260.56,570.68v7.2M257.36,574.28h6.4M264.47,566.62v7.2M261.27,570.22h6.4M268.38,562.56v7.2M265.18,566.16h6.4M272.28,558.50v7.2M269.08,562.10h6.4M276.18,558.50v7.2M272.98,562.10h6.4M280.09,558.50v7.2M276.89,562.10h6.4M284.00,554.44v7.2M280.80,558.04h6.4M287.90,554.44v7.2M284.70,558.04h6.4M291.80,554.44v7.2M288.60,558.04h6.4M295.71,554.44v7.2M292.51,558.04h6.4M299.62,554.44v7.2M296.42,558.04h6.4M303.52,550.38v7.2M300.32,553.98h6.4M307.42,550.38v7.2M304.22,553.98h6.4M311.33,550.38v7.2M308.13,553.98h6.4M315.24,550.38v7.2M312.04,553.98h6.4M319.14,550.38v7.2M315.94,553.98h6.4M323.04,550.38v7.2M319.84,553.98h6.4M326.95,546.32v7.2M323.75,549.92h6.4M330.86,546.32v7.2M327.66,549.92h6.4M334.76,546.32v7.2M331.56,549.92h6.4M338.66,546.32v7.2M335.46,549.92h6.4M342.57,546.32v7.2M339.37,549.92h6.4M346.47,546.32v7.2M343.27,549.92h6.4M350.38,546.32v7.2M347.18,549.92h6.4M354.28,538.20v7.2M351.08,541.80h6.4M358.19,538.20v7.2M354.99,541.80h6.4M362.09,538.20v7.2M358.89,541.80h6.4M366.00,534.14v7.2M362.80,537.74h6.4M369.90,534.14v7.2M366.70,537.74h6.4M373.81,534.14v7.2M370.61,537.74h6.4M377.71,534.14v7.2M374.51,537.74h6.4M381.62,534.14v7.2M378.42,537.74h6.4M385.52,534.14v7.2M382.32,537.74h6.4M389.43,534.14v7.2M386.23,537.74h6.4M393.33,530.08v7.2M390.13,533.68h6.4M397.24,530.08v7.2M394.04,533.68h6.4M401.14,530.08v7.2M397.94,533.68h6.4M405.05,530.08v7.2M401.85,533.68h6.4M408.95,530.08v7.2M405.75,533.68h6.4M412.86,526.02v7.2M409.66,529.62h6.4M416.76,526.02v7.2M413.56,529.62h6.4M420.67,526.02v7.2M417.47,529.62h6.4M424.57,526.02v7.2M421.38,529.62h6.4M428.48,526.02v7.2M425.28,529.62h6.4M432.38,526.02v7.2M429.19,529.62h6.4M436.29,526.02v7.2M433.09,529.62h6.4M440.19,526.02v7.2M437.00,529.62h6.4M444.10,526.02v7.2M440.90,529.62h6.4M448.00,526.02v7.2M444.81,529.62h6.4M451.91,521.96v7.2M448.71,525.56h6.4M455.81,521.96v7.2M452.62,525.56h6.4M459.72,521.96v7.2M456.52,525.56h6.4M463.62,521.96v7.2M460.43,525.56h6.4M467.53,521.96v7.2M464.33,525.56h6.4M471.43,521.96v7.2M468.23,525.56h6.4M475.34,521.96v7.2M472.14,525.56h6.4M479.24,517.90v7.2M476.04,521.50h6.4M483.15,517.90v7.2M479.95,521.50h6.4M487.05,517.90v7.2M483.85,521.50h6.4M490.96,517.90v7.2M487.76,521.50h6.4M494.86,517.90v7.2M491.66,521.50h6.4M498.77,513.84v7.2M495.57,517.44h6.4M502.67,513.84v7.2M499.47,517.44h6.4M506.58,513.84v7.2M503.38,517.44h6.4M510.48,513.84v7.2M507.28,517.44h6.4M514.39,513.84v7.2M511.19,517.44h6.4M518.29,513.84v7.2M515.09,517.44h6.4M522.20,509.78v7.2M519.00,513.38h6.4M526.11,509.78v7.2M522.90,513.38h6.4M530.01,505.72v7.2M526.81,509.32h6.4M533.91,505.72v7.2M530.71,509.32h6.4M537.82,505.72v7.2M534.62,509.32h6.4M541.72,505.72v7.2M538.52,509.32h6.4M545.63,505.72v7.2M542.43,509.32h6.4M549.53,505.72v7.2M546.33,509.32h6.4M553.44,505.72v7.2M550.24,509.32h6.4M557.35,505.72v7.2M554.14,509.32h6.4M561.25,505.72v7.2M558.05,509.32h6.4M565.15,505.72v7.2M561.95,509.32h6.4M569.06,501.66v7.2M565.86,505.26h6.4M572.96,501.66v7.2M569.76,505.26h6.4M576.87,501.66v7.2M573.67,505.26h6.4M580.77,501.66v7.2M577.57,505.26h6.4M584.68,501.66v7.2M581.48,505.26h6.4M588.59,501.66v7.2M585.38,505.26h6.4M592.49,501.66v7.2M589.29,505.26h6.4M596.39,501.66v7.2M593.19,505.26h6.4M600.30,501.66v7.2M597.10,505.26h6.4M604.20,501.66v7.2M601.00,505.26h6.4M608.11,494.76v7.2M604.91,498.36h6.4M612.01,494.76v7.2M608.81,498.36h6.4M615.92,494.76v7.2M612.72,498.36h6.4M619.83,494.76v7.2M616.62,498.36h6.4M623.73,494.76v7.2M620.53,498.36h6.4M627.63,494.76v7.2M624.43,498.36h6.4M631.54,494.76v7.2M628.34,498.36h6.4M635.44,489.48v7.2M632.24,493.08h6.4M639.35,489.48v7.2M636.15,493.08h6.4M643.25,489.48v7.2M640.05,493.08h6.4M647.16,489.48v7.2M643.96,493.08h6.4M651.07,489.48v7.2M647.87,493.08h6.4M654.97,489.48v7.2M651.77,493.08h6.4M658.88,489.48v7.2M655.67,493.08h6.4M662.78,485.42v7.2M659.58,489.02h6.4M666.68,485.42v7.2M663.48,489.02h6.4M670.59,485.42v7.2M667.39,489.02h6.4M674.49,485.42v7.2M671.29,489.02h6.4M678.40,485.42v7.2M675.20,489.02h6.4M682.31,485.42v7.2M679.11,489.02h6.4M686.21,481.36v7.2M683.01,484.96h6.4M690.12,481.36v7.2M686.91,484.96h6.4M694.02,481.36v7.2M690.82,484.96h6.4M697.92,481.36v7.2M694.72,484.96h6.4M701.83,481.36v7.2M698.63,484.96h6.4M705.73,481.36v7.2M702.53,484.96h6.4M709.64,481.36v7.2M706.44,484.96h6.4M713.55,477.30v7.2M710.35,480.90h6.4M717.45,477.30v7.2M714.25,480.90h6.4M721.36,473.24v7.2M718.15,476.84h6.4M725.26,473.24v7.2M722.06,476.84h6.4M729.16,473.24v7.2M725.96,476.84h6.4M733.07,473.24v7.2M729.87,476.84h6.4M736.97,473.24v7.2M733.77,476.84h6.4M740.88,473.24v7.2M737.68,476.84h6.4M744.78,473.24v7.2M741.58,476.84h6.4M748.69,473.24v7.2M745.49,476.84h6.4M752.60,469.18v7.2M749.39,472.78h6.4M756.50,469.18v7.2M753.30,472.78h6.4M760.40,469.18v7.2M757.20,472.78h6.4M764.31,469.18v7.2M761.11,472.78h6.4M768.21,469.18v7.2M765.01,472.78h6.4M772.12,469.18v7.2M768.92,472.78h6.4M776.02,465.12v7.2M772.82,468.72h6.4M779.93,465.12v7.2M776.73,468.72h6.4M783.84,465.12v7.2M780.63,468.72h6.4M787.74,465.12v7.2M784.54,468.72h6.4M791.64,461.06v7.2M788.44,464.66h6.4M795.55,461.06v7.2M792.35,464.66h6.4M799.45,461.06v7.2M796.25,464.66h6.4M803.36,454.97v7.2M800.16,458.57h6.4M807.26,454.97v7.2M804.06,458.57h6.4M811.17,454.97v7.2M807.97,458.57h6.4M815.08,448.88v7.2M811.88,452.48h6.4M818.98,448.88v7.2M815.78,452.48h6.4M822.88,448.88v7.2M819.68,452.48h6.4M826.79,448.88v7.2M823.59,452.48h6.4M830.69,448.88v7.2M827.49,452.48h6.4M834.60,448.88v7.2M831.40,452.48h6.4M838.50,448.88v7.2M835.30,452.48h6.4M842.41,440.76v7.2M839.21,444.36h6.4M846.32,440.76v7.2M843.12,444.36h6.4M850.22,440.76v7.2M847.02,444.36h6.4M854.12,440.76v7.2M850.92,444.36h6.4M858.03,440.76v7.2M854.83,444.36h6.4M861.93,440.76v7.2M858.73,444.36h6.4M865.84,440.76v7.2M862.64,444.36h6.4M869.74,436.70v7.2M866.54,440.30h6.4M873.65,432.64v7.2M870.45,436.24h6.4M877.56,432.64v7.2M874.36,436.24h6.4M881.46,432.64v7.2M878.26,436.24h6.4M885.37,432.64v7.2M882.16,436.24h6.4M889.27,432.64v7.2M886.07,436.24h6.4M893.17,424.52v7.2M889.97,428.12h6.4M897.08,424.52v7.2M893.88,428.12h6.4M900.98,424.52v7.2M897.78,428.12h6.4M904.89,424.52v7.2M901.69,428.12h6.4M908.79,424.52v7.2M905.59,428.12h6.4M912.70,424.52v7.2M909.50,428.12h6.4M916.61,424.52v7.2M913.40,428.12h6.4M920.51,424.52v7.2M917.31,428.12h6.4M924.41,424.52v7.2M921.21,428.12h6.4M928.32,416.40v7.2M925.12,420.00h6.4M932.22,416.40v7.2M929.02,420.00h6.4M936.13,416.40v7.2M932.93,420.00h6.4M940.03,416.40v7.2M936.83,420.00h6.4M943.94,416.40v7.2M940.74,420.00h6.4M947.85,412.34v7.2M944.64,415.94h6.4M951.75,412.34v7.2M948.55,415.94h6.4M955.65,406.25v7.2M952.45,409.85h6.4M959.56,400.16v7.2M956.36,403.76h6.4M963.46,400.16v7.2M960.26,403.76h6.4M967.37,400.16v7.2M964.17,403.76h6.4M971.27,400.16v7.2M968.07,403.76h6.4M975.18,396.10v7.2M971.98,399.70h6.4M979.09,396.10v7.2M975.88,399.70h6.4M982.99,396.10v7.2M979.79,399.70h6.4M986.89,392.04v7.2M983.69,395.64h6.4"/>
</g>
<g stroke="#000" stroke-width="2.4" fill="none">
<line x1="131.7" y1="12.8" x2="131.7" y2="706.2"/>
<line x1="130.5" y1="704.7" x2="992.8" y2="704.7"/>
<line x1="131.7" y1="663.60" x2="118.5" y2="663.60"/>
<line x1="131.7" y1="582.40" x2="118.5" y2="582.40"/>
<line x1="131.7" y1="501.20" x2="118.5" y2="501.20"/>
<line x1="131.7" y1="420.00" x2="118.5" y2="420.00"/>
<line x1="131.7" y1="338.80" x2="118.5" y2="338.80"/>
<line x1="131.7" y1="257.60" x2="118.5" y2="257.60"/>
<line x1="131.7" y1="176.40" x2="118.5" y2="176.40"/>
<line x1="131.7" y1="95.20" x2="118.5" y2="95.20"/>
<line x1="131.7" y1="14.00" x2="118.5" y2="14.00"/>
<line x1="131.7" y1="704.20" x2="125" y2="704.20"/>
<line x1="131.7" y1="623.00" x2="125" y2="623.00"/>
<line x1="131.7" y1="541.80" x2="125" y2="541.80"/>
<line x1="131.7" y1="460.60" x2="125" y2="460.60"/>
<line x1="131.7" y1="379.40" x2="125" y2="379.40"/>
<line x1="131.7" y1="298.20" x2="125" y2="298.20"/>
<line x1="131.7" y1="217.00" x2="125" y2="217.00"/>
<line x1="131.7" y1="135.80" x2="125" y2="135.80"/>
<line x1="131.7" y1="54.60" x2="125" y2="54.60"/>
<line x1="131.70" y1="704.20" x2="131.70" y2="718"/>
<line x1="209.80" y1="704.20" x2="209.80" y2="718"/>
<line x1="287.90" y1="704.20" x2="287.90" y2="718"/>
<line x1="366.00" y1="704.20" x2="366.00" y2="718"/>
<line x1="444.10" y1="704.20" x2="444.10" y2="718"/>
<line x1="522.20" y1="704.20" x2="522.20" y2="718"/>
<line x1="600.30" y1="704.20" x2="600.30" y2="718"/>
<line x1="678.40" y1="704.20" x2="678.40" y2="718"/>
<line x1="756.50" y1="704.20" x2="756.50" y2="718"/>
<line x1="834.60" y1="704.20" x2="834.60" y2="718"/>
<line x1="912.70" y1="704.20" x2="912.70" y2="718"/>
<line x1="990.80" y1="704.20" x2="990.80" y2="718"/>
<line x1="170.75" y1="704.20" x2="170.75" y2="711"/>
<line x1="248.85" y1="704.20" x2="248.85" y2="711"/>
<line x1="326.95" y1="704.20" x2="326.95" y2="711"/>
<line x1="405.05" y1="704.20" x2="405.05" y2="711"/>
<line x1="483.15" y1="704.20" x2="483.15" y2="711"/>
<line x1="561.25" y1="704.20" x2="561.25" y2="711"/>
<line x1="639.35" y1="704.20" x2="639.35" y2="711"/>
<line x1="717.45" y1="704.20" x2="717.45" y2="711"/>
<line x1="795.55" y1="704.20" x2="795.55" y2="711"/>
<line x1="873.65" y1="704.20" x2="873.65" y2="711"/>
<line x1="951.75" y1="704.20" x2="951.75" y2="711"/>
</g>
<rect x="137.9" y="13.6" width="131" height="96.8" fill="#fff" stroke="#222" stroke-width="1.4"/>
<path d="M140.1,23.9H154.5M160.6,23.9H175.7" stroke="#000" stroke-width="1.8"/><path d="M154.5,23.9H160.6" stroke="#777" stroke-width="1.2"/><path d="M157.4,20.4V27.6" stroke="#222" stroke-width="1.2"/>
<path d="M138.9,43.2H154.5M160.5,43.2H175.4" stroke="#f00" stroke-width="2.1"/><path fill="none" stroke="#f00" stroke-width="1.0" d="M153.5,43.2h7.8M157.4,39.7v7M153.7,39.900000000000006l7.4,6.6M153.7,46.5l7.4,-6.6"/>
<path d="M139.7,61.9H143.2M150,61.9H164M171,61.9H174.8" stroke="#00f" stroke-width="2.1"/><circle cx="157.5" cy="61.9" r="3.5" fill="#00f"/>
<path d="M139.7,80.6H150.3M161.2,80.6H171.8" stroke="#f0f" stroke-width="2.1"/><path d="M157.5,75.8L161.7,83H153.3Z" fill="#f0f"/>
<path d="M139.7,99.7H147.9M151.3,99.7H169.4M172.1,99.7H175.5" stroke="#8000ff" stroke-width="2.1"/><rect x="154.1" y="96.60000000000001" width="6.2" height="6.2" fill="#8000ff"/>
<g opacity="0.999"><text x="991" y="186.90" font-family="'Liberation Sans', sans-serif" font-size="30" fill="#000">140</text><text x="991" y="268.10" font-family="'Liberation Sans', sans-serif" font-size="30" fill="#000">120</text><text x="991" y="389.90" font-family="'Liberation Sans', sans-serif" font-size="30" fill="#000">90</text><text x="991" y="430.50" font-family="'Liberation Sans', sans-serif" font-size="30" fill="#000">80</text><text x="991" y="511.70" font-family="'Liberation Sans', sans-serif" font-size="30" fill="#000">60</text><text x="991" y="658.27" font-family="'Liberation Sans', sans-serif" font-size="30" fill="#000">23.9</text><text x="991" y="680.19" font-family="'Liberation Sans', sans-serif" font-size="30" fill="#000">18.5</text><text transform="translate(106.5,674.10) scale(0.95,1)" font-family="'Liberation Sans', sans-serif" font-size="31" text-anchor="end" fill="#000">20</text><text transform="translate(106.5,592.90) scale(0.95,1)" font-family="'Liberation Sans', sans-serif" font-size="31" text-anchor="end" fill="#000">40</text><text transform="translate(106.5,511.70) scale(0.95,1)" font-family="'Liberation Sans', sans-serif" font-size="31" text-anchor="end" fill="#000">60</text><text transform="translate(106.5,430.50) scale(0.95,1)" font-family="'Liberation Sans', sans-serif" font-size="31" text-anchor="end" fill="#000">80</text><text transform="translate(106.5,349.30) scale(0.95,1)" font-family="'Liberation Sans', sans-serif" font-size="31" text-anchor="end" fill="#000">100</text><text transform="translate(106.5,268.10) scale(0.95,1)" font-family="'Liberation Sans', sans-serif" font-size="31" text-anchor="end" fill="#000">120</text><text transform="translate(106.5,186.90) scale(0.95,1)" font-family="'Liberation Sans', sans-serif" font-size="31" text-anchor="end" fill="#000">140</text><text transform="translate(106.5,105.70) scale(0.95,1)" font-family="'Liberation Sans', sans-serif" font-size="31" text-anchor="end" fill="#000">160</text><text transform="translate(106.5,24.50) scale(0.95,1)" font-family="'Liberation Sans', sans-serif" font-size="31" text-anchor="end" fill="#000">180</text><text transform="translate(132.30,755) scale(0.95,1)" font-family="'Liberation Sans', sans-serif" font-size="31" text-anchor="middle" fill="#000">0</text><text transform="translate(210.40,755) scale(0.95,1)" font-family="'Liberation Sans', sans-serif" font-size="31" text-anchor="middle" fill="#000">20</text><text transform="translate(288.50,755) scale(0.95,1)" font-family="'Liberation Sans', sans-serif" font-size="31" text-anchor="middle" fill="#000">40</text><text transform="translate(366.60,755) scale(0.95,1)" font-family="'Liberation Sans', sans-serif" font-size="31" text-anchor="middle" fill="#000">60</text><text transform="translate(444.70,755) scale(0.95,1)" font-family="'Liberation Sans', sans-serif" font-size="31" text-anchor="middle" fill="#000">80</text><text transform="translate(522.80,755) scale(0.95,1)" font-family="'Liberation Sans', sans-serif" font-size="31" text-anchor="middle" fill="#000">100</text><text transform="translate(600.90,755) scale(0.95,1)" font-family="'Liberation Sans', sans-serif" font-size="31" text-anchor="middle" fill="#000">120</text><text transform="translate(679.00,755) scale(0.95,1)" font-family="'Liberation Sans', sans-serif" font-size="31" text-anchor="middle" fill="#000">140</text><text transform="translate(757.10,755) scale(0.95,1)" font-family="'Liberation Sans', sans-serif" font-size="31" text-anchor="middle" fill="#000">160</text><text transform="translate(835.20,755) scale(0.95,1)" font-family="'Liberation Sans', sans-serif" font-size="31" text-anchor="middle" fill="#000">180</text><text transform="translate(913.30,755) scale(0.95,1)" font-family="'Liberation Sans', sans-serif" font-size="31" text-anchor="middle" fill="#000">200</text><text transform="translate(991.40,755) scale(0.95,1)" font-family="'Liberation Sans', sans-serif" font-size="31" text-anchor="middle" fill="#000">220</text><text x="561.5" y="810.7" font-family="'Liberation Sans', sans-serif" font-size="36" text-anchor="middle" fill="#000">subject index</text><text transform="translate(29.9,358.5) rotate(-90)" font-family="'Liberation Sans', sans-serif" font-size="36" text-anchor="middle" fill="#000">Measurement, absolute value</text><text x="179.5" y="28.30" font-family="'Liberation Sans', sans-serif" font-size="15.5" fill="#000">Age</text><text x="179.5" y="47.60" font-family="'Liberation Sans', sans-serif" font-size="15.5" fill="#000">SBP(mmHg)</text><text x="179.5" y="66.30" font-family="'Liberation Sans', sans-serif" font-size="15.5" fill="#000">DBP(mmHg)</text><text x="179.5" y="85.00" font-family="'Liberation Sans', sans-serif" font-size="15.5" fill="#000">HR(b/m)</text><text x="179.5" y="104.10" font-family="'Liberation Sans', sans-serif" font-size="15.5" fill="#000">BMI(kg/m^2)</text></g>
</svg></body></html>
